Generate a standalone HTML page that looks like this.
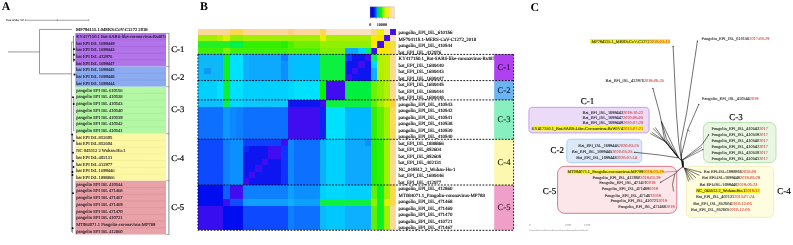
<!DOCTYPE html>
<html><head><meta charset="utf-8"><style>
html,body{margin:0;padding:0;background:#fff;width:793px;height:245px;overflow:hidden}
svg{display:block;font-family:"Liberation Serif", serif;will-change:transform;text-rendering:geometricPrecision}
</style></head><body>
<svg width="793" height="245" viewBox="0 0 793 245">
<g transform="rotate(0.01 396 122)">
<text x="1.7" y="10.5" font-size="11.8" fill="#000" font-weight="bold" text-anchor="start" >A</text>
<text x="200.1" y="10.5" font-size="11.8" fill="#000" font-weight="bold" text-anchor="start" >B</text>
<text x="530.6" y="10.6" font-size="11.8" fill="#000" font-weight="bold" text-anchor="start" >C</text>
<text x="5.6" y="21.3" font-size="2.85" fill="#222" font-weight="normal" text-anchor="start" font-family="Liberation Sans, sans-serif" stroke="#222" stroke-width="0.05">Tree scale: 10</text>
<line x1="25.4" y1="20.3" x2="88.8" y2="20.3" stroke="#333" stroke-width="0.45" />
<line x1="25.4" y1="19.5" x2="25.4" y2="21.1" stroke="#333" stroke-width="0.45" />
<line x1="57.2" y1="19.5" x2="57.2" y2="21.1" stroke="#333" stroke-width="0.45" />
<line x1="88.8" y1="19.5" x2="88.8" y2="21.1" stroke="#333" stroke-width="0.45" />
<rect x="75.3" y="33.05" width="90.7" height="33.59" fill="#b274e8" />
<line x1="75.3" y1="39.768" x2="166" y2="39.768" stroke="#9d5cd8" stroke-width="0.5" />
<line x1="75.3" y1="46.486" x2="166" y2="46.486" stroke="#9d5cd8" stroke-width="0.5" />
<line x1="75.3" y1="53.20399999999999" x2="166" y2="53.20399999999999" stroke="#9d5cd8" stroke-width="0.5" />
<line x1="75.3" y1="59.922" x2="166" y2="59.922" stroke="#9d5cd8" stroke-width="0.5" />
<rect x="75.3" y="66.64" width="90.7" height="20.154" fill="#8cabf0" />
<line x1="75.3" y1="73.358" x2="166" y2="73.358" stroke="#7696e2" stroke-width="0.5" />
<line x1="75.3" y1="80.076" x2="166" y2="80.076" stroke="#7696e2" stroke-width="0.5" />
<rect x="75.3" y="86.794" width="90.7" height="47.025999999999996" fill="#b4f7a4" />
<line x1="75.3" y1="93.512" x2="166" y2="93.512" stroke="#9fe690" stroke-width="0.5" />
<line x1="75.3" y1="100.23" x2="166" y2="100.23" stroke="#9fe690" stroke-width="0.5" />
<line x1="75.3" y1="106.948" x2="166" y2="106.948" stroke="#9fe690" stroke-width="0.5" />
<line x1="75.3" y1="113.666" x2="166" y2="113.666" stroke="#9fe690" stroke-width="0.5" />
<line x1="75.3" y1="120.384" x2="166" y2="120.384" stroke="#9fe690" stroke-width="0.5" />
<line x1="75.3" y1="127.10199999999999" x2="166" y2="127.10199999999999" stroke="#9fe690" stroke-width="0.5" />
<rect x="75.3" y="133.82" width="90.7" height="47.025999999999996" fill="#fcf8a4" />
<line x1="75.3" y1="140.538" x2="166" y2="140.538" stroke="#ece48c" stroke-width="0.5" />
<line x1="75.3" y1="147.256" x2="166" y2="147.256" stroke="#ece48c" stroke-width="0.5" />
<line x1="75.3" y1="153.974" x2="166" y2="153.974" stroke="#ece48c" stroke-width="0.5" />
<line x1="75.3" y1="160.692" x2="166" y2="160.692" stroke="#ece48c" stroke-width="0.5" />
<line x1="75.3" y1="167.41000000000003" x2="166" y2="167.41000000000003" stroke="#ece48c" stroke-width="0.5" />
<line x1="75.3" y1="174.128" x2="166" y2="174.128" stroke="#ece48c" stroke-width="0.5" />
<rect x="75.3" y="180.846" width="90.7" height="53.744" fill="#e8a2a8" />
<line x1="75.3" y1="187.56400000000002" x2="166" y2="187.56400000000002" stroke="#d68890" stroke-width="0.5" />
<line x1="75.3" y1="194.28199999999998" x2="166" y2="194.28199999999998" stroke="#d68890" stroke-width="0.5" />
<line x1="75.3" y1="201.0" x2="166" y2="201.0" stroke="#d68890" stroke-width="0.5" />
<line x1="75.3" y1="207.71800000000002" x2="166" y2="207.71800000000002" stroke="#d68890" stroke-width="0.5" />
<line x1="75.3" y1="214.43599999999998" x2="166" y2="214.43599999999998" stroke="#d68890" stroke-width="0.5" />
<line x1="75.3" y1="221.154" x2="166" y2="221.154" stroke="#d68890" stroke-width="0.5" />
<line x1="75.3" y1="227.872" x2="166" y2="227.872" stroke="#d68890" stroke-width="0.5" />
<g clip-path="url(#clipA)">
<text x="76.2" y="37.949999999999996" font-size="4.55" fill="#100818" font-weight="normal" text-anchor="start" stroke="#100818" stroke-width="0.07">KY417150.1 Bat-SARS-like-coronavirus-Rs4874</text>
<text x="76.2" y="44.668" font-size="4.55" fill="#100818" font-weight="normal" text-anchor="start" stroke="#100818" stroke-width="0.07">bat EPI ISL 1699449</text>
<text x="76.2" y="51.385999999999996" font-size="4.55" fill="#100818" font-weight="normal" text-anchor="start" stroke="#100818" stroke-width="0.07">bat EPI ISL 1699443</text>
<text x="76.2" y="58.10399999999999" font-size="4.55" fill="#100818" font-weight="normal" text-anchor="start" stroke="#100818" stroke-width="0.07">bat EPI ISL 412976</text>
<text x="76.2" y="64.822" font-size="4.55" fill="#100818" font-weight="normal" text-anchor="start" stroke="#100818" stroke-width="0.07">bat EPI ISL 1699447</text>
<text x="76.2" y="71.54" font-size="4.55" fill="#100818" font-weight="normal" text-anchor="start" stroke="#100818" stroke-width="0.07">bat EPI ISL 1699445</text>
<text x="76.2" y="78.25800000000001" font-size="4.55" fill="#100818" font-weight="normal" text-anchor="start" stroke="#100818" stroke-width="0.07">bat EPI ISL 1699448</text>
<text x="76.2" y="84.976" font-size="4.55" fill="#100818" font-weight="normal" text-anchor="start" stroke="#100818" stroke-width="0.07">bat EPI ISL 1699444</text>
<text x="76.2" y="91.694" font-size="4.55" fill="#100818" font-weight="normal" text-anchor="start" stroke="#100818" stroke-width="0.07">pangolin EPI ISL 610156</text>
<text x="76.2" y="98.412" font-size="4.55" fill="#100818" font-weight="normal" text-anchor="start" stroke="#100818" stroke-width="0.07">pangolin EPI ISL 410538</text>
<text x="76.2" y="105.13000000000001" font-size="4.55" fill="#100818" font-weight="normal" text-anchor="start" stroke="#100818" stroke-width="0.07">pangolin EPI ISL 410543</text>
<text x="76.2" y="111.848" font-size="4.55" fill="#100818" font-weight="normal" text-anchor="start" stroke="#100818" stroke-width="0.07">pangolin EPI ISL 410540</text>
<text x="76.2" y="118.566" font-size="4.55" fill="#100818" font-weight="normal" text-anchor="start" stroke="#100818" stroke-width="0.07">pangolin EPI ISL 410539</text>
<text x="76.2" y="125.284" font-size="4.55" fill="#100818" font-weight="normal" text-anchor="start" stroke="#100818" stroke-width="0.07">pangolin EPI ISL 410542</text>
<text x="76.2" y="132.00199999999998" font-size="4.55" fill="#100818" font-weight="normal" text-anchor="start" stroke="#100818" stroke-width="0.07">pangolin EPI ISL 410541</text>
<text x="76.2" y="138.72" font-size="4.55" fill="#100818" font-weight="normal" text-anchor="start" stroke="#100818" stroke-width="0.07">bat EPI ISL 852605</text>
<text x="76.2" y="145.43800000000002" font-size="4.55" fill="#100818" font-weight="normal" text-anchor="start" stroke="#100818" stroke-width="0.07">bat EPI ISL 852604</text>
<text x="76.2" y="152.156" font-size="4.55" fill="#100818" font-weight="normal" text-anchor="start" stroke="#100818" stroke-width="0.07">NC 045512 2 Wuhan-Hu-1</text>
<text x="76.2" y="158.874" font-size="4.55" fill="#100818" font-weight="normal" text-anchor="start" stroke="#100818" stroke-width="0.07">bat EPI ISL 402131</text>
<text x="76.2" y="165.592" font-size="4.55" fill="#100818" font-weight="normal" text-anchor="start" stroke="#100818" stroke-width="0.07">bat EPI ISL 412977</text>
<text x="76.2" y="172.31000000000003" font-size="4.55" fill="#100818" font-weight="normal" text-anchor="start" stroke="#100818" stroke-width="0.07">bat EPI ISL 1699446</text>
<text x="76.2" y="179.028" font-size="4.55" fill="#100818" font-weight="normal" text-anchor="start" stroke="#100818" stroke-width="0.07">bat EPI ISL 1898866</text>
<text x="76.2" y="185.746" font-size="4.55" fill="#100818" font-weight="normal" text-anchor="start" stroke="#100818" stroke-width="0.07">pangolin EPI ISL 410544</text>
<text x="76.2" y="192.46400000000003" font-size="4.55" fill="#100818" font-weight="normal" text-anchor="start" stroke="#100818" stroke-width="0.07">pangolin EPI ISL 471468</text>
<text x="76.2" y="199.182" font-size="4.55" fill="#100818" font-weight="normal" text-anchor="start" stroke="#100818" stroke-width="0.07">pangolin EPI ISL 471467</text>
<text x="76.2" y="205.9" font-size="4.55" fill="#100818" font-weight="normal" text-anchor="start" stroke="#100818" stroke-width="0.07">pangolin EPI ISL 471469</text>
<text x="76.2" y="212.61800000000002" font-size="4.55" fill="#100818" font-weight="normal" text-anchor="start" stroke="#100818" stroke-width="0.07">pangolin EPI ISL 471470</text>
<text x="76.2" y="219.33599999999998" font-size="4.55" fill="#100818" font-weight="normal" text-anchor="start" stroke="#100818" stroke-width="0.07">pangolin EPI ISL 410721</text>
<text x="76.2" y="226.054" font-size="4.55" fill="#100818" font-weight="normal" text-anchor="start" stroke="#100818" stroke-width="0.07">MT084071.1 Pangolin-coronavirus-MP789</text>
<text x="76.2" y="232.77200000000002" font-size="4.55" fill="#100818" font-weight="normal" text-anchor="start" stroke="#100818" stroke-width="0.07">pangolin EPI ISL 412860</text>
</g>
<text x="76.1" y="31.0" font-size="4.58" fill="#000" font-weight="normal" text-anchor="start" stroke="#000" stroke-width="0.12">MF794115.1-MERS-CoV-C1272 2018</text>
<line x1="8" y1="52" x2="39.5" y2="52" stroke="#777" stroke-width="0.75" />
<line x1="39.5" y1="29.5" x2="39.5" y2="73.9" stroke="#777" stroke-width="0.75" />
<line x1="39.5" y1="29.5" x2="72" y2="29.5" stroke="#777" stroke-width="0.75" />
<line x1="39.5" y1="73.9" x2="71.4" y2="73.9" stroke="#777" stroke-width="0.75" />
<line x1="71.4" y1="42.2" x2="71.4" y2="232" stroke="#888" stroke-width="0.8" />
<line x1="71.4" y1="42.2" x2="73.4" y2="42.2" stroke="#444" stroke-width="0.5" />
<line x1="73.5" y1="36" x2="73.5" y2="62" stroke="#222" stroke-width="0.5" />
<line x1="73.7" y1="97" x2="73.7" y2="131" stroke="#222" stroke-width="0.5" />
<line x1="72.6" y1="134" x2="72.6" y2="233" stroke="#222" stroke-width="0.5" />
<circle cx="74" cy="49.2" r="0.95" fill="#000"/>
<circle cx="74" cy="54.8" r="0.95" fill="#000"/>
<circle cx="74" cy="59.8" r="0.95" fill="#000"/>
<circle cx="74.4" cy="74.6" r="0.95" fill="#000"/>
<circle cx="73" cy="97.2" r="0.95" fill="#000"/>
<circle cx="73.7" cy="104.1" r="0.95" fill="#000"/>
<circle cx="72.2" cy="134.6" r="0.95" fill="#000"/>
<circle cx="73.7" cy="140.8" r="0.95" fill="#000"/>
<circle cx="73" cy="152.7" r="0.95" fill="#000"/>
<circle cx="73" cy="161" r="0.95" fill="#000"/>
<circle cx="73.5" cy="167" r="0.95" fill="#000"/>
<circle cx="72.5" cy="172" r="0.95" fill="#000"/>
<circle cx="72.5" cy="175" r="0.95" fill="#000"/>
<circle cx="73" cy="193.2" r="0.95" fill="#000"/>
<circle cx="72.7" cy="228.2" r="0.95" fill="#000"/>
<line x1="168.9" y1="33.4" x2="168.9" y2="234.6" stroke="#999" stroke-width="1.1" />
<line x1="166" y1="33.4" x2="169.4" y2="33.4" stroke="#777" stroke-width="0.6" />
<line x1="166" y1="66.6" x2="169.4" y2="66.6" stroke="#777" stroke-width="0.6" />
<line x1="166" y1="86.8" x2="169.4" y2="86.8" stroke="#777" stroke-width="0.6" />
<line x1="166" y1="133.8" x2="169.4" y2="133.8" stroke="#777" stroke-width="0.6" />
<line x1="166" y1="180.8" x2="169.4" y2="180.8" stroke="#777" stroke-width="0.6" />
<line x1="166" y1="234.6" x2="169.4" y2="234.6" stroke="#777" stroke-width="0.6" />
<text x="171.2" y="52.3" font-size="8.7" fill="#000" font-weight="normal" text-anchor="start" stroke="#000" stroke-width="0.2">C-1</text>
<text x="171.2" y="80.2" font-size="8.7" fill="#000" font-weight="normal" text-anchor="start" stroke="#000" stroke-width="0.2">C-2</text>
<text x="171.2" y="112.2" font-size="8.7" fill="#000" font-weight="normal" text-anchor="start" stroke="#000" stroke-width="0.2">C-3</text>
<text x="171.2" y="161.3" font-size="8.7" fill="#000" font-weight="normal" text-anchor="start" stroke="#000" stroke-width="0.2">C-4</text>
<text x="171.2" y="209.7" font-size="8.7" fill="#000" font-weight="normal" text-anchor="start" stroke="#000" stroke-width="0.2">C-5</text>
<g clip-path="url(#clipH)"><g shape-rendering="crispEdges" filter="url(#hb)">
<rect x="198" y="29" width="6" height="6" fill="#fcd898" />
<rect x="204" y="29" width="7" height="6" fill="#fcd898" />
<rect x="211" y="29" width="6" height="6" fill="#fcd898" />
<rect x="217" y="29" width="6" height="6" fill="#fcd898" />
<rect x="223" y="29" width="7" height="6" fill="#fcd898" />
<rect x="230" y="29" width="6" height="6" fill="#fcd850" />
<rect x="236" y="29" width="7" height="6" fill="#fcd850" />
<rect x="243" y="29" width="6" height="6" fill="#fcd898" />
<rect x="249" y="29" width="6" height="6" fill="#fcd898" />
<rect x="255" y="29" width="7" height="6" fill="#fcd898" />
<rect x="262" y="29" width="6" height="6" fill="#fcd898" />
<rect x="268" y="29" width="7" height="6" fill="#fcd898" />
<rect x="275" y="29" width="6" height="6" fill="#fcd898" />
<rect x="281" y="29" width="7" height="6" fill="#fcd898" />
<rect x="288" y="29" width="6" height="6" fill="#fcd080" />
<rect x="294" y="29" width="6" height="6" fill="#fcd898" />
<rect x="300" y="29" width="7" height="6" fill="#fcd898" />
<rect x="307" y="29" width="6" height="6" fill="#fcd898" />
<rect x="313" y="29" width="7" height="6" fill="#fcd898" />
<rect x="320" y="29" width="6" height="6" fill="#fcd850" />
<rect x="326" y="29" width="7" height="6" fill="#fce0c0" />
<rect x="333" y="29" width="6" height="6" fill="#fce0c0" />
<rect x="339" y="29" width="6" height="6" fill="#fce0c0" />
<rect x="345" y="29" width="7" height="6" fill="#fce0c0" />
<rect x="352" y="29" width="6" height="6" fill="#fce0c0" />
<rect x="358" y="29" width="7" height="6" fill="#fce0c0" />
<rect x="365" y="29" width="6" height="6" fill="#fce0c0" />
<rect x="371" y="29" width="6" height="6" fill="#fcd880" />
<rect x="377" y="29" width="7" height="6" fill="#e8f400" />
<rect x="384" y="29" width="6" height="6" fill="#fce0c0" />
<rect x="390" y="29" width="7" height="6" fill="#4010f0" />
<rect x="198" y="35" width="6" height="6" fill="#a0f000" />
<rect x="204" y="35" width="7" height="6" fill="#a0f000" />
<rect x="211" y="35" width="6" height="6" fill="#a0f000" />
<rect x="217" y="35" width="6" height="6" fill="#b8f000" />
<rect x="223" y="35" width="7" height="6" fill="#e0f000" />
<rect x="230" y="35" width="6" height="6" fill="#90f000" />
<rect x="236" y="35" width="7" height="6" fill="#90f000" />
<rect x="243" y="35" width="6" height="6" fill="#a0f000" />
<rect x="249" y="35" width="6" height="6" fill="#a0f000" />
<rect x="255" y="35" width="7" height="6" fill="#a0f000" />
<rect x="262" y="35" width="6" height="6" fill="#a0f000" />
<rect x="268" y="35" width="7" height="6" fill="#a0f000" />
<rect x="275" y="35" width="6" height="6" fill="#a0f000" />
<rect x="281" y="35" width="7" height="6" fill="#a0f000" />
<rect x="288" y="35" width="6" height="6" fill="#a0f000" />
<rect x="294" y="35" width="6" height="6" fill="#a0f000" />
<rect x="300" y="35" width="7" height="6" fill="#a0f000" />
<rect x="307" y="35" width="6" height="6" fill="#a0f000" />
<rect x="313" y="35" width="7" height="6" fill="#a0f000" />
<rect x="320" y="35" width="6" height="6" fill="#e8f000" />
<rect x="326" y="35" width="7" height="6" fill="#a8f000" />
<rect x="333" y="35" width="6" height="6" fill="#a8f000" />
<rect x="339" y="35" width="6" height="6" fill="#a8f000" />
<rect x="345" y="35" width="7" height="6" fill="#a8f000" />
<rect x="352" y="35" width="6" height="6" fill="#a8f000" />
<rect x="358" y="35" width="7" height="6" fill="#a8f000" />
<rect x="365" y="35" width="6" height="6" fill="#a8f000" />
<rect x="371" y="35" width="6" height="6" fill="#f8e800" />
<rect x="377" y="35" width="7" height="6" fill="#fce000" />
<rect x="384" y="35" width="6" height="6" fill="#4010f0" />
<rect x="390" y="35" width="7" height="6" fill="#fce0c0" />
<rect x="198" y="41" width="6" height="7" fill="#20f020" />
<rect x="204" y="41" width="7" height="7" fill="#20f020" />
<rect x="211" y="41" width="6" height="7" fill="#20f020" />
<rect x="217" y="41" width="6" height="7" fill="#20f020" />
<rect x="223" y="41" width="7" height="7" fill="#20f020" />
<rect x="230" y="41" width="6" height="7" fill="#00f050" />
<rect x="236" y="41" width="7" height="7" fill="#00f050" />
<rect x="243" y="41" width="6" height="7" fill="#30f000" />
<rect x="249" y="41" width="6" height="7" fill="#30f000" />
<rect x="255" y="41" width="7" height="7" fill="#30f000" />
<rect x="262" y="41" width="6" height="7" fill="#30f000" />
<rect x="268" y="41" width="7" height="7" fill="#30f000" />
<rect x="275" y="41" width="6" height="7" fill="#30f000" />
<rect x="281" y="41" width="7" height="7" fill="#20f000" />
<rect x="288" y="41" width="6" height="7" fill="#50f000" />
<rect x="294" y="41" width="6" height="7" fill="#70f000" />
<rect x="300" y="41" width="7" height="7" fill="#70f000" />
<rect x="307" y="41" width="6" height="7" fill="#70f000" />
<rect x="313" y="41" width="7" height="7" fill="#70f000" />
<rect x="320" y="41" width="6" height="7" fill="#90f000" />
<rect x="326" y="41" width="7" height="7" fill="#90f000" />
<rect x="333" y="41" width="6" height="7" fill="#90f000" />
<rect x="339" y="41" width="6" height="7" fill="#90f000" />
<rect x="345" y="41" width="7" height="7" fill="#90f000" />
<rect x="352" y="41" width="6" height="7" fill="#90f000" />
<rect x="358" y="41" width="7" height="7" fill="#90f000" />
<rect x="365" y="41" width="6" height="7" fill="#90f000" />
<rect x="371" y="41" width="6" height="7" fill="#fce800" />
<rect x="377" y="41" width="7" height="7" fill="#4010f0" />
<rect x="384" y="41" width="6" height="7" fill="#fce000" />
<rect x="390" y="41" width="7" height="7" fill="#f0e040" />
<rect x="198" y="48" width="6" height="6" fill="#40f000" />
<rect x="204" y="48" width="7" height="6" fill="#40f000" />
<rect x="211" y="48" width="6" height="6" fill="#40f000" />
<rect x="217" y="48" width="6" height="6" fill="#40f000" />
<rect x="223" y="48" width="7" height="6" fill="#80f000" />
<rect x="230" y="48" width="6" height="6" fill="#40f000" />
<rect x="236" y="48" width="7" height="6" fill="#40f000" />
<rect x="243" y="48" width="6" height="6" fill="#40f000" />
<rect x="249" y="48" width="6" height="6" fill="#40f000" />
<rect x="255" y="48" width="7" height="6" fill="#40f000" />
<rect x="262" y="48" width="6" height="6" fill="#40f000" />
<rect x="268" y="48" width="7" height="6" fill="#40f000" />
<rect x="275" y="48" width="6" height="6" fill="#40f000" />
<rect x="281" y="48" width="7" height="6" fill="#40f000" />
<rect x="288" y="48" width="6" height="6" fill="#50f000" />
<rect x="294" y="48" width="6" height="6" fill="#50f000" />
<rect x="300" y="48" width="7" height="6" fill="#50f000" />
<rect x="307" y="48" width="6" height="6" fill="#50f000" />
<rect x="313" y="48" width="7" height="6" fill="#50f000" />
<rect x="320" y="48" width="6" height="6" fill="#80f000" />
<rect x="326" y="48" width="7" height="6" fill="#80f000" />
<rect x="333" y="48" width="6" height="6" fill="#80f000" />
<rect x="339" y="48" width="6" height="6" fill="#80f000" />
<rect x="345" y="48" width="7" height="6" fill="#10a8ff" />
<rect x="352" y="48" width="6" height="6" fill="#10a8ff" />
<rect x="358" y="48" width="7" height="6" fill="#00d0ff" />
<rect x="365" y="48" width="6" height="6" fill="#00f060" />
<rect x="371" y="48" width="6" height="6" fill="#4010f0" />
<rect x="377" y="48" width="7" height="6" fill="#fce800" />
<rect x="384" y="48" width="6" height="6" fill="#fce800" />
<rect x="390" y="48" width="7" height="6" fill="#fcd860" />
<rect x="198" y="54" width="6" height="7" fill="#10b8f8" />
<rect x="204" y="54" width="7" height="7" fill="#10b8f8" />
<rect x="211" y="54" width="6" height="7" fill="#10b8f8" />
<rect x="217" y="54" width="6" height="7" fill="#10b8f8" />
<rect x="223" y="54" width="7" height="7" fill="#10f020" />
<rect x="230" y="54" width="6" height="7" fill="#00e0ff" />
<rect x="236" y="54" width="7" height="7" fill="#00e0ff" />
<rect x="243" y="54" width="6" height="7" fill="#10b0ff" />
<rect x="249" y="54" width="6" height="7" fill="#08a8ff" />
<rect x="255" y="54" width="7" height="7" fill="#08a8ff" />
<rect x="262" y="54" width="6" height="7" fill="#08a8ff" />
<rect x="268" y="54" width="7" height="7" fill="#08a8ff" />
<rect x="275" y="54" width="6" height="7" fill="#08a8ff" />
<rect x="281" y="54" width="7" height="7" fill="#0880ff" />
<rect x="288" y="54" width="6" height="7" fill="#10b8ff" />
<rect x="294" y="54" width="6" height="7" fill="#00c0ff" />
<rect x="300" y="54" width="7" height="7" fill="#00c0ff" />
<rect x="307" y="54" width="6" height="7" fill="#00c0ff" />
<rect x="313" y="54" width="7" height="7" fill="#00c0ff" />
<rect x="320" y="54" width="6" height="7" fill="#10f040" />
<rect x="326" y="54" width="7" height="7" fill="#10f040" />
<rect x="333" y="54" width="6" height="7" fill="#10f040" />
<rect x="339" y="54" width="6" height="7" fill="#10f040" />
<rect x="345" y="54" width="7" height="7" fill="#0838ff" />
<rect x="352" y="54" width="6" height="7" fill="#0818f0" />
<rect x="358" y="54" width="7" height="7" fill="#0818f0" />
<rect x="365" y="54" width="6" height="7" fill="#4010f0" />
<rect x="371" y="54" width="6" height="7" fill="#10f060" />
<rect x="377" y="54" width="7" height="7" fill="#b0f000" />
<rect x="384" y="54" width="6" height="7" fill="#c0f000" />
<rect x="390" y="54" width="7" height="7" fill="#fcd890" />
<rect x="198" y="61" width="6" height="7" fill="#10b8f8" />
<rect x="204" y="61" width="7" height="7" fill="#10b8f8" />
<rect x="211" y="61" width="6" height="7" fill="#10b8f8" />
<rect x="217" y="61" width="6" height="7" fill="#10b8f8" />
<rect x="223" y="61" width="7" height="7" fill="#10f020" />
<rect x="230" y="61" width="6" height="7" fill="#00e0ff" />
<rect x="236" y="61" width="7" height="7" fill="#00e0ff" />
<rect x="243" y="61" width="6" height="7" fill="#10b0ff" />
<rect x="249" y="61" width="6" height="7" fill="#08a8ff" />
<rect x="255" y="61" width="7" height="7" fill="#08a8ff" />
<rect x="262" y="61" width="6" height="7" fill="#08a8ff" />
<rect x="268" y="61" width="7" height="7" fill="#08a8ff" />
<rect x="275" y="61" width="6" height="7" fill="#08a8ff" />
<rect x="281" y="61" width="7" height="7" fill="#1090ff" />
<rect x="288" y="61" width="6" height="7" fill="#10b8ff" />
<rect x="294" y="61" width="6" height="7" fill="#00c0ff" />
<rect x="300" y="61" width="7" height="7" fill="#00c0ff" />
<rect x="307" y="61" width="6" height="7" fill="#00c0ff" />
<rect x="313" y="61" width="7" height="7" fill="#00c0ff" />
<rect x="320" y="61" width="6" height="7" fill="#10f040" />
<rect x="326" y="61" width="7" height="7" fill="#10f040" />
<rect x="333" y="61" width="6" height="7" fill="#10f040" />
<rect x="339" y="61" width="6" height="7" fill="#10f040" />
<rect x="345" y="61" width="7" height="7" fill="#0818f0" />
<rect x="352" y="61" width="6" height="7" fill="#0818f0" />
<rect x="358" y="61" width="7" height="7" fill="#4010f0" />
<rect x="365" y="61" width="6" height="7" fill="#0818f0" />
<rect x="371" y="61" width="6" height="7" fill="#00d8ff" />
<rect x="377" y="61" width="7" height="7" fill="#b0f000" />
<rect x="384" y="61" width="6" height="7" fill="#c0f000" />
<rect x="390" y="61" width="7" height="7" fill="#fcd890" />
<rect x="198" y="68" width="6" height="6" fill="#10b8f8" />
<rect x="204" y="68" width="7" height="6" fill="#0898f8" />
<rect x="211" y="68" width="6" height="6" fill="#10b8f8" />
<rect x="217" y="68" width="6" height="6" fill="#10b8f8" />
<rect x="223" y="68" width="7" height="6" fill="#10f020" />
<rect x="230" y="68" width="6" height="6" fill="#00e0ff" />
<rect x="236" y="68" width="7" height="6" fill="#00e0ff" />
<rect x="243" y="68" width="6" height="6" fill="#10b0ff" />
<rect x="249" y="68" width="6" height="6" fill="#08a8ff" />
<rect x="255" y="68" width="7" height="6" fill="#08a8ff" />
<rect x="262" y="68" width="6" height="6" fill="#08a8ff" />
<rect x="268" y="68" width="7" height="6" fill="#08a8ff" />
<rect x="275" y="68" width="6" height="6" fill="#08a8ff" />
<rect x="281" y="68" width="7" height="6" fill="#1090ff" />
<rect x="288" y="68" width="6" height="6" fill="#10b8ff" />
<rect x="294" y="68" width="6" height="6" fill="#00c0ff" />
<rect x="300" y="68" width="7" height="6" fill="#00c0ff" />
<rect x="307" y="68" width="6" height="6" fill="#00c0ff" />
<rect x="313" y="68" width="7" height="6" fill="#00c0ff" />
<rect x="320" y="68" width="6" height="6" fill="#10f040" />
<rect x="326" y="68" width="7" height="6" fill="#10f040" />
<rect x="333" y="68" width="6" height="6" fill="#10f040" />
<rect x="339" y="68" width="6" height="6" fill="#10f040" />
<rect x="345" y="68" width="7" height="6" fill="#0818f0" />
<rect x="352" y="68" width="6" height="6" fill="#4010f0" />
<rect x="358" y="68" width="7" height="6" fill="#0818f0" />
<rect x="365" y="68" width="6" height="6" fill="#0818f0" />
<rect x="371" y="68" width="6" height="6" fill="#10b0ff" />
<rect x="377" y="68" width="7" height="6" fill="#b0f000" />
<rect x="384" y="68" width="6" height="6" fill="#c0f000" />
<rect x="390" y="68" width="7" height="6" fill="#fcd890" />
<rect x="198" y="74" width="6" height="7" fill="#10b8f8" />
<rect x="204" y="74" width="7" height="7" fill="#10b8f8" />
<rect x="211" y="74" width="6" height="7" fill="#10b8f8" />
<rect x="217" y="74" width="6" height="7" fill="#10b8f8" />
<rect x="223" y="74" width="7" height="7" fill="#10f020" />
<rect x="230" y="74" width="6" height="7" fill="#00e0ff" />
<rect x="236" y="74" width="7" height="7" fill="#00e0ff" />
<rect x="243" y="74" width="6" height="7" fill="#10b0ff" />
<rect x="249" y="74" width="6" height="7" fill="#08a8ff" />
<rect x="255" y="74" width="7" height="7" fill="#08a8ff" />
<rect x="262" y="74" width="6" height="7" fill="#08a8ff" />
<rect x="268" y="74" width="7" height="7" fill="#08a8ff" />
<rect x="275" y="74" width="6" height="7" fill="#08a8ff" />
<rect x="281" y="74" width="7" height="7" fill="#1090ff" />
<rect x="288" y="74" width="6" height="7" fill="#10b8ff" />
<rect x="294" y="74" width="6" height="7" fill="#00c0ff" />
<rect x="300" y="74" width="7" height="7" fill="#00c0ff" />
<rect x="307" y="74" width="6" height="7" fill="#00c0ff" />
<rect x="313" y="74" width="7" height="7" fill="#00c0ff" />
<rect x="320" y="74" width="6" height="7" fill="#10f040" />
<rect x="326" y="74" width="7" height="7" fill="#10f040" />
<rect x="333" y="74" width="6" height="7" fill="#10f040" />
<rect x="339" y="74" width="6" height="7" fill="#10f040" />
<rect x="345" y="74" width="7" height="7" fill="#4010f0" />
<rect x="352" y="74" width="6" height="7" fill="#0818f0" />
<rect x="358" y="74" width="7" height="7" fill="#0818f0" />
<rect x="365" y="74" width="6" height="7" fill="#0818f0" />
<rect x="371" y="74" width="6" height="7" fill="#10b0ff" />
<rect x="377" y="74" width="7" height="7" fill="#b0f000" />
<rect x="384" y="74" width="6" height="7" fill="#c0f000" />
<rect x="390" y="74" width="7" height="7" fill="#fcd890" />
<rect x="198" y="81" width="6" height="6" fill="#00d0ff" />
<rect x="204" y="81" width="7" height="6" fill="#00d0ff" />
<rect x="211" y="81" width="6" height="6" fill="#00d0ff" />
<rect x="217" y="81" width="6" height="6" fill="#00e0ff" />
<rect x="223" y="81" width="7" height="6" fill="#10f030" />
<rect x="230" y="81" width="6" height="6" fill="#00e0ff" />
<rect x="236" y="81" width="7" height="6" fill="#00e0ff" />
<rect x="243" y="81" width="6" height="6" fill="#00d0ff" />
<rect x="249" y="81" width="6" height="6" fill="#00d0ff" />
<rect x="255" y="81" width="7" height="6" fill="#00d0ff" />
<rect x="262" y="81" width="6" height="6" fill="#00d0ff" />
<rect x="268" y="81" width="7" height="6" fill="#00d0ff" />
<rect x="275" y="81" width="6" height="6" fill="#00d0ff" />
<rect x="281" y="81" width="7" height="6" fill="#00d0ff" />
<rect x="288" y="81" width="6" height="6" fill="#00d8ff" />
<rect x="294" y="81" width="6" height="6" fill="#00e0ff" />
<rect x="300" y="81" width="7" height="6" fill="#00e0ff" />
<rect x="307" y="81" width="6" height="6" fill="#00e0ff" />
<rect x="313" y="81" width="7" height="6" fill="#00e0ff" />
<rect x="320" y="81" width="6" height="6" fill="#10f000" />
<rect x="326" y="81" width="7" height="6" fill="#4010f0" />
<rect x="333" y="81" width="6" height="6" fill="#4010f0" />
<rect x="339" y="81" width="6" height="6" fill="#4010f0" />
<rect x="345" y="81" width="7" height="6" fill="#00f040" />
<rect x="352" y="81" width="6" height="6" fill="#00f040" />
<rect x="358" y="81" width="7" height="6" fill="#00f040" />
<rect x="365" y="81" width="6" height="6" fill="#00f040" />
<rect x="371" y="81" width="6" height="6" fill="#70f000" />
<rect x="377" y="81" width="7" height="6" fill="#90f000" />
<rect x="384" y="81" width="6" height="6" fill="#b0f000" />
<rect x="390" y="81" width="7" height="6" fill="#fcd890" />
<rect x="198" y="87" width="6" height="7" fill="#00d0ff" />
<rect x="204" y="87" width="7" height="7" fill="#00d0ff" />
<rect x="211" y="87" width="6" height="7" fill="#00d0ff" />
<rect x="217" y="87" width="6" height="7" fill="#00e0ff" />
<rect x="223" y="87" width="7" height="7" fill="#10f030" />
<rect x="230" y="87" width="6" height="7" fill="#00e0ff" />
<rect x="236" y="87" width="7" height="7" fill="#00e0ff" />
<rect x="243" y="87" width="6" height="7" fill="#00d0ff" />
<rect x="249" y="87" width="6" height="7" fill="#00d0ff" />
<rect x="255" y="87" width="7" height="7" fill="#00d0ff" />
<rect x="262" y="87" width="6" height="7" fill="#00d0ff" />
<rect x="268" y="87" width="7" height="7" fill="#00d0ff" />
<rect x="275" y="87" width="6" height="7" fill="#00d0ff" />
<rect x="281" y="87" width="7" height="7" fill="#00d0ff" />
<rect x="288" y="87" width="6" height="7" fill="#00d8ff" />
<rect x="294" y="87" width="6" height="7" fill="#00e0ff" />
<rect x="300" y="87" width="7" height="7" fill="#00e0ff" />
<rect x="307" y="87" width="6" height="7" fill="#00e0ff" />
<rect x="313" y="87" width="7" height="7" fill="#00e0ff" />
<rect x="320" y="87" width="6" height="7" fill="#10f000" />
<rect x="326" y="87" width="7" height="7" fill="#4010f0" />
<rect x="333" y="87" width="6" height="7" fill="#4010f0" />
<rect x="339" y="87" width="6" height="7" fill="#4010f0" />
<rect x="345" y="87" width="7" height="7" fill="#00f040" />
<rect x="352" y="87" width="6" height="7" fill="#00f040" />
<rect x="358" y="87" width="7" height="7" fill="#00f040" />
<rect x="365" y="87" width="6" height="7" fill="#00f040" />
<rect x="371" y="87" width="6" height="7" fill="#70f000" />
<rect x="377" y="87" width="7" height="7" fill="#90f000" />
<rect x="384" y="87" width="6" height="7" fill="#b0f000" />
<rect x="390" y="87" width="7" height="7" fill="#fcd890" />
<rect x="198" y="94" width="6" height="6" fill="#00d0ff" />
<rect x="204" y="94" width="7" height="6" fill="#00d0ff" />
<rect x="211" y="94" width="6" height="6" fill="#00d0ff" />
<rect x="217" y="94" width="6" height="6" fill="#00e0ff" />
<rect x="223" y="94" width="7" height="6" fill="#10f030" />
<rect x="230" y="94" width="6" height="6" fill="#00e0ff" />
<rect x="236" y="94" width="7" height="6" fill="#00e0ff" />
<rect x="243" y="94" width="6" height="6" fill="#00d0ff" />
<rect x="249" y="94" width="6" height="6" fill="#00d0ff" />
<rect x="255" y="94" width="7" height="6" fill="#00d0ff" />
<rect x="262" y="94" width="6" height="6" fill="#00d0ff" />
<rect x="268" y="94" width="7" height="6" fill="#00d0ff" />
<rect x="275" y="94" width="6" height="6" fill="#00d0ff" />
<rect x="281" y="94" width="7" height="6" fill="#00d0ff" />
<rect x="288" y="94" width="6" height="6" fill="#00d8ff" />
<rect x="294" y="94" width="6" height="6" fill="#00e0ff" />
<rect x="300" y="94" width="7" height="6" fill="#00e0ff" />
<rect x="307" y="94" width="6" height="6" fill="#00e0ff" />
<rect x="313" y="94" width="7" height="6" fill="#00e0ff" />
<rect x="320" y="94" width="6" height="6" fill="#10f000" />
<rect x="326" y="94" width="7" height="6" fill="#4010f0" />
<rect x="333" y="94" width="6" height="6" fill="#4010f0" />
<rect x="339" y="94" width="6" height="6" fill="#4010f0" />
<rect x="345" y="94" width="7" height="6" fill="#00f040" />
<rect x="352" y="94" width="6" height="6" fill="#00f040" />
<rect x="358" y="94" width="7" height="6" fill="#00f040" />
<rect x="365" y="94" width="6" height="6" fill="#00f040" />
<rect x="371" y="94" width="6" height="6" fill="#70f000" />
<rect x="377" y="94" width="7" height="6" fill="#90f000" />
<rect x="384" y="94" width="6" height="6" fill="#b0f000" />
<rect x="390" y="94" width="7" height="6" fill="#fcd890" />
<rect x="198" y="100" width="6" height="7" fill="#10c0ff" />
<rect x="204" y="100" width="7" height="7" fill="#10c0ff" />
<rect x="211" y="100" width="6" height="7" fill="#10c0ff" />
<rect x="217" y="100" width="6" height="7" fill="#10c0ff" />
<rect x="223" y="100" width="7" height="7" fill="#10f040" />
<rect x="230" y="100" width="6" height="7" fill="#00d8ff" />
<rect x="236" y="100" width="7" height="7" fill="#00d8ff" />
<rect x="243" y="100" width="6" height="7" fill="#10c8ff" />
<rect x="249" y="100" width="6" height="7" fill="#10c8ff" />
<rect x="255" y="100" width="7" height="7" fill="#10c8ff" />
<rect x="262" y="100" width="6" height="7" fill="#10c8ff" />
<rect x="268" y="100" width="7" height="7" fill="#10c8ff" />
<rect x="275" y="100" width="6" height="7" fill="#10c8ff" />
<rect x="281" y="100" width="7" height="7" fill="#10c8ff" />
<rect x="288" y="100" width="6" height="7" fill="#0818f0" />
<rect x="294" y="100" width="6" height="7" fill="#0818f0" />
<rect x="300" y="100" width="7" height="7" fill="#0818f0" />
<rect x="307" y="100" width="6" height="7" fill="#0818f0" />
<rect x="313" y="100" width="7" height="7" fill="#0818f0" />
<rect x="320" y="100" width="6" height="7" fill="#4010f0" />
<rect x="326" y="100" width="7" height="7" fill="#10f040" />
<rect x="333" y="100" width="6" height="7" fill="#10f040" />
<rect x="339" y="100" width="6" height="7" fill="#10f040" />
<rect x="345" y="100" width="7" height="7" fill="#10f040" />
<rect x="352" y="100" width="6" height="7" fill="#10f040" />
<rect x="358" y="100" width="7" height="7" fill="#10f040" />
<rect x="365" y="100" width="6" height="7" fill="#10f040" />
<rect x="371" y="100" width="6" height="7" fill="#60f000" />
<rect x="377" y="100" width="7" height="7" fill="#a0f000" />
<rect x="384" y="100" width="6" height="7" fill="#d0f000" />
<rect x="390" y="100" width="7" height="7" fill="#fcd040" />
<rect x="198" y="107" width="6" height="6" fill="#1070ff" />
<rect x="204" y="107" width="7" height="6" fill="#1070ff" />
<rect x="211" y="107" width="6" height="6" fill="#1070ff" />
<rect x="217" y="107" width="6" height="6" fill="#1070ff" />
<rect x="223" y="107" width="7" height="6" fill="#1098ff" />
<rect x="230" y="107" width="6" height="6" fill="#1088ff" />
<rect x="236" y="107" width="7" height="6" fill="#1080ff" />
<rect x="243" y="107" width="6" height="6" fill="#1070ff" />
<rect x="249" y="107" width="6" height="6" fill="#1070ff" />
<rect x="255" y="107" width="7" height="6" fill="#1070ff" />
<rect x="262" y="107" width="6" height="6" fill="#1070ff" />
<rect x="268" y="107" width="7" height="6" fill="#1070ff" />
<rect x="275" y="107" width="6" height="6" fill="#1070ff" />
<rect x="281" y="107" width="7" height="6" fill="#1070ff" />
<rect x="288" y="107" width="6" height="6" fill="#4010f0" />
<rect x="294" y="107" width="6" height="6" fill="#4010f0" />
<rect x="300" y="107" width="7" height="6" fill="#4010f0" />
<rect x="307" y="107" width="6" height="6" fill="#4010f0" />
<rect x="313" y="107" width="7" height="6" fill="#4010f0" />
<rect x="320" y="107" width="6" height="6" fill="#0820f0" />
<rect x="326" y="107" width="7" height="6" fill="#00e0ff" />
<rect x="333" y="107" width="6" height="6" fill="#00e0ff" />
<rect x="339" y="107" width="6" height="6" fill="#00e0ff" />
<rect x="345" y="107" width="7" height="6" fill="#00b8ff" />
<rect x="352" y="107" width="6" height="6" fill="#00b8ff" />
<rect x="358" y="107" width="7" height="6" fill="#00b8ff" />
<rect x="365" y="107" width="6" height="6" fill="#00b8ff" />
<rect x="371" y="107" width="6" height="6" fill="#30f000" />
<rect x="377" y="107" width="7" height="6" fill="#60f000" />
<rect x="384" y="107" width="6" height="6" fill="#a0f000" />
<rect x="390" y="107" width="7" height="6" fill="#fcd860" />
<rect x="198" y="113" width="6" height="7" fill="#1070ff" />
<rect x="204" y="113" width="7" height="7" fill="#1070ff" />
<rect x="211" y="113" width="6" height="7" fill="#1070ff" />
<rect x="217" y="113" width="6" height="7" fill="#1070ff" />
<rect x="223" y="113" width="7" height="7" fill="#1098ff" />
<rect x="230" y="113" width="6" height="7" fill="#1088ff" />
<rect x="236" y="113" width="7" height="7" fill="#1080ff" />
<rect x="243" y="113" width="6" height="7" fill="#1070ff" />
<rect x="249" y="113" width="6" height="7" fill="#1070ff" />
<rect x="255" y="113" width="7" height="7" fill="#1070ff" />
<rect x="262" y="113" width="6" height="7" fill="#1070ff" />
<rect x="268" y="113" width="7" height="7" fill="#1070ff" />
<rect x="275" y="113" width="6" height="7" fill="#1070ff" />
<rect x="281" y="113" width="7" height="7" fill="#1070ff" />
<rect x="288" y="113" width="6" height="7" fill="#4010f0" />
<rect x="294" y="113" width="6" height="7" fill="#4010f0" />
<rect x="300" y="113" width="7" height="7" fill="#4010f0" />
<rect x="307" y="113" width="6" height="7" fill="#4010f0" />
<rect x="313" y="113" width="7" height="7" fill="#4010f0" />
<rect x="320" y="113" width="6" height="7" fill="#0820f0" />
<rect x="326" y="113" width="7" height="7" fill="#00e0ff" />
<rect x="333" y="113" width="6" height="7" fill="#00e0ff" />
<rect x="339" y="113" width="6" height="7" fill="#00e0ff" />
<rect x="345" y="113" width="7" height="7" fill="#00b8ff" />
<rect x="352" y="113" width="6" height="7" fill="#00b8ff" />
<rect x="358" y="113" width="7" height="7" fill="#00b8ff" />
<rect x="365" y="113" width="6" height="7" fill="#00b8ff" />
<rect x="371" y="113" width="6" height="7" fill="#30f000" />
<rect x="377" y="113" width="7" height="7" fill="#60f000" />
<rect x="384" y="113" width="6" height="7" fill="#a0f000" />
<rect x="390" y="113" width="7" height="7" fill="#fcd860" />
<rect x="198" y="120" width="6" height="6" fill="#1070ff" />
<rect x="204" y="120" width="7" height="6" fill="#1070ff" />
<rect x="211" y="120" width="6" height="6" fill="#1070ff" />
<rect x="217" y="120" width="6" height="6" fill="#1070ff" />
<rect x="223" y="120" width="7" height="6" fill="#1098ff" />
<rect x="230" y="120" width="6" height="6" fill="#1088ff" />
<rect x="236" y="120" width="7" height="6" fill="#1080ff" />
<rect x="243" y="120" width="6" height="6" fill="#1070ff" />
<rect x="249" y="120" width="6" height="6" fill="#1070ff" />
<rect x="255" y="120" width="7" height="6" fill="#1070ff" />
<rect x="262" y="120" width="6" height="6" fill="#1070ff" />
<rect x="268" y="120" width="7" height="6" fill="#1070ff" />
<rect x="275" y="120" width="6" height="6" fill="#1070ff" />
<rect x="281" y="120" width="7" height="6" fill="#1070ff" />
<rect x="288" y="120" width="6" height="6" fill="#4010f0" />
<rect x="294" y="120" width="6" height="6" fill="#4010f0" />
<rect x="300" y="120" width="7" height="6" fill="#4010f0" />
<rect x="307" y="120" width="6" height="6" fill="#4010f0" />
<rect x="313" y="120" width="7" height="6" fill="#4010f0" />
<rect x="320" y="120" width="6" height="6" fill="#0820f0" />
<rect x="326" y="120" width="7" height="6" fill="#00e0ff" />
<rect x="333" y="120" width="6" height="6" fill="#00e0ff" />
<rect x="339" y="120" width="6" height="6" fill="#00e0ff" />
<rect x="345" y="120" width="7" height="6" fill="#00b8ff" />
<rect x="352" y="120" width="6" height="6" fill="#00b8ff" />
<rect x="358" y="120" width="7" height="6" fill="#00b8ff" />
<rect x="365" y="120" width="6" height="6" fill="#00b8ff" />
<rect x="371" y="120" width="6" height="6" fill="#30f000" />
<rect x="377" y="120" width="7" height="6" fill="#60f000" />
<rect x="384" y="120" width="6" height="6" fill="#a0f000" />
<rect x="390" y="120" width="7" height="6" fill="#fcd860" />
<rect x="198" y="126" width="6" height="7" fill="#1070ff" />
<rect x="204" y="126" width="7" height="7" fill="#1070ff" />
<rect x="211" y="126" width="6" height="7" fill="#1070ff" />
<rect x="217" y="126" width="6" height="7" fill="#1070ff" />
<rect x="223" y="126" width="7" height="7" fill="#1098ff" />
<rect x="230" y="126" width="6" height="7" fill="#1088ff" />
<rect x="236" y="126" width="7" height="7" fill="#1080ff" />
<rect x="243" y="126" width="6" height="7" fill="#1070ff" />
<rect x="249" y="126" width="6" height="7" fill="#1070ff" />
<rect x="255" y="126" width="7" height="7" fill="#1070ff" />
<rect x="262" y="126" width="6" height="7" fill="#1070ff" />
<rect x="268" y="126" width="7" height="7" fill="#1070ff" />
<rect x="275" y="126" width="6" height="7" fill="#1070ff" />
<rect x="281" y="126" width="7" height="7" fill="#1070ff" />
<rect x="288" y="126" width="6" height="7" fill="#4010f0" />
<rect x="294" y="126" width="6" height="7" fill="#4010f0" />
<rect x="300" y="126" width="7" height="7" fill="#4010f0" />
<rect x="307" y="126" width="6" height="7" fill="#4010f0" />
<rect x="313" y="126" width="7" height="7" fill="#4010f0" />
<rect x="320" y="126" width="6" height="7" fill="#0820f0" />
<rect x="326" y="126" width="7" height="7" fill="#00e0ff" />
<rect x="333" y="126" width="6" height="7" fill="#00e0ff" />
<rect x="339" y="126" width="6" height="7" fill="#00e0ff" />
<rect x="345" y="126" width="7" height="7" fill="#00b8ff" />
<rect x="352" y="126" width="6" height="7" fill="#00b8ff" />
<rect x="358" y="126" width="7" height="7" fill="#00b8ff" />
<rect x="365" y="126" width="6" height="7" fill="#00b8ff" />
<rect x="371" y="126" width="6" height="7" fill="#30f000" />
<rect x="377" y="126" width="7" height="7" fill="#60f000" />
<rect x="384" y="126" width="6" height="7" fill="#a0f000" />
<rect x="390" y="126" width="7" height="7" fill="#fcd860" />
<rect x="198" y="133" width="6" height="6" fill="#1070ff" />
<rect x="204" y="133" width="7" height="6" fill="#1070ff" />
<rect x="211" y="133" width="6" height="6" fill="#1070ff" />
<rect x="217" y="133" width="6" height="6" fill="#1070ff" />
<rect x="223" y="133" width="7" height="6" fill="#1098ff" />
<rect x="230" y="133" width="6" height="6" fill="#1088ff" />
<rect x="236" y="133" width="7" height="6" fill="#1080ff" />
<rect x="243" y="133" width="6" height="6" fill="#1070ff" />
<rect x="249" y="133" width="6" height="6" fill="#1070ff" />
<rect x="255" y="133" width="7" height="6" fill="#1070ff" />
<rect x="262" y="133" width="6" height="6" fill="#1070ff" />
<rect x="268" y="133" width="7" height="6" fill="#1070ff" />
<rect x="275" y="133" width="6" height="6" fill="#1070ff" />
<rect x="281" y="133" width="7" height="6" fill="#1070ff" />
<rect x="288" y="133" width="6" height="6" fill="#4010f0" />
<rect x="294" y="133" width="6" height="6" fill="#4010f0" />
<rect x="300" y="133" width="7" height="6" fill="#4010f0" />
<rect x="307" y="133" width="6" height="6" fill="#4010f0" />
<rect x="313" y="133" width="7" height="6" fill="#4010f0" />
<rect x="320" y="133" width="6" height="6" fill="#0820f0" />
<rect x="326" y="133" width="7" height="6" fill="#00e0ff" />
<rect x="333" y="133" width="6" height="6" fill="#00e0ff" />
<rect x="339" y="133" width="6" height="6" fill="#00e0ff" />
<rect x="345" y="133" width="7" height="6" fill="#00b8ff" />
<rect x="352" y="133" width="6" height="6" fill="#00b8ff" />
<rect x="358" y="133" width="7" height="6" fill="#00b8ff" />
<rect x="365" y="133" width="6" height="6" fill="#00b8ff" />
<rect x="371" y="133" width="6" height="6" fill="#30f000" />
<rect x="377" y="133" width="7" height="6" fill="#60f000" />
<rect x="384" y="133" width="6" height="6" fill="#a0f000" />
<rect x="390" y="133" width="7" height="6" fill="#fcd860" />
<rect x="198" y="139" width="6" height="7" fill="#0848ff" />
<rect x="204" y="139" width="7" height="7" fill="#0848ff" />
<rect x="211" y="139" width="6" height="7" fill="#0848ff" />
<rect x="217" y="139" width="6" height="7" fill="#0848ff" />
<rect x="223" y="139" width="7" height="7" fill="#1080ff" />
<rect x="230" y="139" width="6" height="7" fill="#1090ff" />
<rect x="236" y="139" width="7" height="7" fill="#1090ff" />
<rect x="243" y="139" width="6" height="7" fill="#1040ff" />
<rect x="249" y="139" width="6" height="7" fill="#1040ff" />
<rect x="255" y="139" width="7" height="7" fill="#1040ff" />
<rect x="262" y="139" width="6" height="7" fill="#1040ff" />
<rect x="268" y="139" width="7" height="7" fill="#1040ff" />
<rect x="275" y="139" width="6" height="7" fill="#1040ff" />
<rect x="281" y="139" width="7" height="7" fill="#4010f0" />
<rect x="288" y="139" width="6" height="7" fill="#1088ff" />
<rect x="294" y="139" width="6" height="7" fill="#1070ff" />
<rect x="300" y="139" width="7" height="7" fill="#1070ff" />
<rect x="307" y="139" width="6" height="7" fill="#1070ff" />
<rect x="313" y="139" width="7" height="7" fill="#1070ff" />
<rect x="320" y="139" width="6" height="7" fill="#10b0ff" />
<rect x="326" y="139" width="7" height="7" fill="#00d0ff" />
<rect x="333" y="139" width="6" height="7" fill="#00d0ff" />
<rect x="339" y="139" width="6" height="7" fill="#00d0ff" />
<rect x="345" y="139" width="7" height="7" fill="#10a8ff" />
<rect x="352" y="139" width="6" height="7" fill="#10a8ff" />
<rect x="358" y="139" width="7" height="7" fill="#10a8ff" />
<rect x="365" y="139" width="6" height="7" fill="#1090ff" />
<rect x="371" y="139" width="6" height="7" fill="#20f000" />
<rect x="377" y="139" width="7" height="7" fill="#30f000" />
<rect x="384" y="139" width="6" height="7" fill="#a0f000" />
<rect x="390" y="139" width="7" height="7" fill="#fcd890" />
<rect x="198" y="146" width="6" height="6" fill="#0848ff" />
<rect x="204" y="146" width="7" height="6" fill="#0848ff" />
<rect x="211" y="146" width="6" height="6" fill="#0848ff" />
<rect x="217" y="146" width="6" height="6" fill="#0848ff" />
<rect x="223" y="146" width="7" height="6" fill="#1080ff" />
<rect x="230" y="146" width="6" height="6" fill="#1090ff" />
<rect x="236" y="146" width="7" height="6" fill="#1090ff" />
<rect x="243" y="146" width="6" height="6" fill="#0828f8" />
<rect x="249" y="146" width="6" height="6" fill="#0818f0" />
<rect x="255" y="146" width="7" height="6" fill="#0818f0" />
<rect x="262" y="146" width="6" height="6" fill="#0818f0" />
<rect x="268" y="146" width="7" height="6" fill="#4010f0" />
<rect x="275" y="146" width="6" height="6" fill="#4010f0" />
<rect x="281" y="146" width="7" height="6" fill="#1030ff" />
<rect x="288" y="146" width="6" height="6" fill="#1088ff" />
<rect x="294" y="146" width="6" height="6" fill="#1070ff" />
<rect x="300" y="146" width="7" height="6" fill="#1070ff" />
<rect x="307" y="146" width="6" height="6" fill="#1070ff" />
<rect x="313" y="146" width="7" height="6" fill="#1070ff" />
<rect x="320" y="146" width="6" height="6" fill="#10b0ff" />
<rect x="326" y="146" width="7" height="6" fill="#00d0ff" />
<rect x="333" y="146" width="6" height="6" fill="#00d0ff" />
<rect x="339" y="146" width="6" height="6" fill="#00d0ff" />
<rect x="345" y="146" width="7" height="6" fill="#10a8ff" />
<rect x="352" y="146" width="6" height="6" fill="#10a8ff" />
<rect x="358" y="146" width="7" height="6" fill="#10a8ff" />
<rect x="365" y="146" width="6" height="6" fill="#10a8ff" />
<rect x="371" y="146" width="6" height="6" fill="#20f000" />
<rect x="377" y="146" width="7" height="6" fill="#30f000" />
<rect x="384" y="146" width="6" height="6" fill="#a0f000" />
<rect x="390" y="146" width="7" height="6" fill="#fcd890" />
<rect x="198" y="152" width="6" height="7" fill="#0848ff" />
<rect x="204" y="152" width="7" height="7" fill="#0848ff" />
<rect x="211" y="152" width="6" height="7" fill="#0848ff" />
<rect x="217" y="152" width="6" height="7" fill="#0848ff" />
<rect x="223" y="152" width="7" height="7" fill="#1080ff" />
<rect x="230" y="152" width="6" height="7" fill="#1090ff" />
<rect x="236" y="152" width="7" height="7" fill="#1090ff" />
<rect x="243" y="152" width="6" height="7" fill="#0818f0" />
<rect x="249" y="152" width="6" height="7" fill="#0818f0" />
<rect x="255" y="152" width="7" height="7" fill="#0818f0" />
<rect x="262" y="152" width="6" height="7" fill="#0818f0" />
<rect x="268" y="152" width="7" height="7" fill="#4010f0" />
<rect x="275" y="152" width="6" height="7" fill="#4010f0" />
<rect x="281" y="152" width="7" height="7" fill="#1030ff" />
<rect x="288" y="152" width="6" height="7" fill="#1088ff" />
<rect x="294" y="152" width="6" height="7" fill="#1070ff" />
<rect x="300" y="152" width="7" height="7" fill="#1070ff" />
<rect x="307" y="152" width="6" height="7" fill="#1070ff" />
<rect x="313" y="152" width="7" height="7" fill="#1070ff" />
<rect x="320" y="152" width="6" height="7" fill="#10b0ff" />
<rect x="326" y="152" width="7" height="7" fill="#00d0ff" />
<rect x="333" y="152" width="6" height="7" fill="#00d0ff" />
<rect x="339" y="152" width="6" height="7" fill="#00d0ff" />
<rect x="345" y="152" width="7" height="7" fill="#10a8ff" />
<rect x="352" y="152" width="6" height="7" fill="#10a8ff" />
<rect x="358" y="152" width="7" height="7" fill="#10a8ff" />
<rect x="365" y="152" width="6" height="7" fill="#10a8ff" />
<rect x="371" y="152" width="6" height="7" fill="#20f000" />
<rect x="377" y="152" width="7" height="7" fill="#30f000" />
<rect x="384" y="152" width="6" height="7" fill="#a0f000" />
<rect x="390" y="152" width="7" height="7" fill="#fcd890" />
<rect x="198" y="159" width="6" height="6" fill="#0848ff" />
<rect x="204" y="159" width="7" height="6" fill="#0848ff" />
<rect x="211" y="159" width="6" height="6" fill="#0848ff" />
<rect x="217" y="159" width="6" height="6" fill="#0848ff" />
<rect x="223" y="159" width="7" height="6" fill="#1080ff" />
<rect x="230" y="159" width="6" height="6" fill="#1090ff" />
<rect x="236" y="159" width="7" height="6" fill="#1090ff" />
<rect x="243" y="159" width="6" height="6" fill="#0818f0" />
<rect x="249" y="159" width="6" height="6" fill="#0818f0" />
<rect x="255" y="159" width="7" height="6" fill="#0818f0" />
<rect x="262" y="159" width="6" height="6" fill="#4010f0" />
<rect x="268" y="159" width="7" height="6" fill="#0818f0" />
<rect x="275" y="159" width="6" height="6" fill="#0818f0" />
<rect x="281" y="159" width="7" height="6" fill="#1030ff" />
<rect x="288" y="159" width="6" height="6" fill="#1088ff" />
<rect x="294" y="159" width="6" height="6" fill="#1070ff" />
<rect x="300" y="159" width="7" height="6" fill="#1070ff" />
<rect x="307" y="159" width="6" height="6" fill="#1070ff" />
<rect x="313" y="159" width="7" height="6" fill="#1070ff" />
<rect x="320" y="159" width="6" height="6" fill="#10b0ff" />
<rect x="326" y="159" width="7" height="6" fill="#00d0ff" />
<rect x="333" y="159" width="6" height="6" fill="#00d0ff" />
<rect x="339" y="159" width="6" height="6" fill="#00d0ff" />
<rect x="345" y="159" width="7" height="6" fill="#10a8ff" />
<rect x="352" y="159" width="6" height="6" fill="#10a8ff" />
<rect x="358" y="159" width="7" height="6" fill="#10a8ff" />
<rect x="365" y="159" width="6" height="6" fill="#10a8ff" />
<rect x="371" y="159" width="6" height="6" fill="#20f000" />
<rect x="377" y="159" width="7" height="6" fill="#30f000" />
<rect x="384" y="159" width="6" height="6" fill="#a0f000" />
<rect x="390" y="159" width="7" height="6" fill="#fcd890" />
<rect x="198" y="165" width="6" height="7" fill="#0848ff" />
<rect x="204" y="165" width="7" height="7" fill="#0848ff" />
<rect x="211" y="165" width="6" height="7" fill="#0848ff" />
<rect x="217" y="165" width="6" height="7" fill="#0848ff" />
<rect x="223" y="165" width="7" height="7" fill="#1080ff" />
<rect x="230" y="165" width="6" height="7" fill="#1090ff" />
<rect x="236" y="165" width="7" height="7" fill="#1090ff" />
<rect x="243" y="165" width="6" height="7" fill="#0818f0" />
<rect x="249" y="165" width="6" height="7" fill="#0818f0" />
<rect x="255" y="165" width="7" height="7" fill="#4010f0" />
<rect x="262" y="165" width="6" height="7" fill="#0818f0" />
<rect x="268" y="165" width="7" height="7" fill="#0818f0" />
<rect x="275" y="165" width="6" height="7" fill="#0818f0" />
<rect x="281" y="165" width="7" height="7" fill="#1030ff" />
<rect x="288" y="165" width="6" height="7" fill="#1088ff" />
<rect x="294" y="165" width="6" height="7" fill="#1070ff" />
<rect x="300" y="165" width="7" height="7" fill="#1070ff" />
<rect x="307" y="165" width="6" height="7" fill="#1070ff" />
<rect x="313" y="165" width="7" height="7" fill="#1070ff" />
<rect x="320" y="165" width="6" height="7" fill="#10b0ff" />
<rect x="326" y="165" width="7" height="7" fill="#00d0ff" />
<rect x="333" y="165" width="6" height="7" fill="#00d0ff" />
<rect x="339" y="165" width="6" height="7" fill="#00d0ff" />
<rect x="345" y="165" width="7" height="7" fill="#10a8ff" />
<rect x="352" y="165" width="6" height="7" fill="#10a8ff" />
<rect x="358" y="165" width="7" height="7" fill="#10a8ff" />
<rect x="365" y="165" width="6" height="7" fill="#10a8ff" />
<rect x="371" y="165" width="6" height="7" fill="#20f000" />
<rect x="377" y="165" width="7" height="7" fill="#30f000" />
<rect x="384" y="165" width="6" height="7" fill="#a0f000" />
<rect x="390" y="165" width="7" height="7" fill="#fcd890" />
<rect x="198" y="172" width="6" height="6" fill="#0848ff" />
<rect x="204" y="172" width="7" height="6" fill="#0848ff" />
<rect x="211" y="172" width="6" height="6" fill="#0848ff" />
<rect x="217" y="172" width="6" height="6" fill="#0848ff" />
<rect x="223" y="172" width="7" height="6" fill="#1080ff" />
<rect x="230" y="172" width="6" height="6" fill="#1090ff" />
<rect x="236" y="172" width="7" height="6" fill="#1090ff" />
<rect x="243" y="172" width="6" height="6" fill="#0818f0" />
<rect x="249" y="172" width="6" height="6" fill="#4010f0" />
<rect x="255" y="172" width="7" height="6" fill="#0818f0" />
<rect x="262" y="172" width="6" height="6" fill="#0818f0" />
<rect x="268" y="172" width="7" height="6" fill="#0818f0" />
<rect x="275" y="172" width="6" height="6" fill="#0818f0" />
<rect x="281" y="172" width="7" height="6" fill="#1030ff" />
<rect x="288" y="172" width="6" height="6" fill="#1088ff" />
<rect x="294" y="172" width="6" height="6" fill="#1070ff" />
<rect x="300" y="172" width="7" height="6" fill="#1070ff" />
<rect x="307" y="172" width="6" height="6" fill="#1070ff" />
<rect x="313" y="172" width="7" height="6" fill="#1070ff" />
<rect x="320" y="172" width="6" height="6" fill="#10b0ff" />
<rect x="326" y="172" width="7" height="6" fill="#00d0ff" />
<rect x="333" y="172" width="6" height="6" fill="#00d0ff" />
<rect x="339" y="172" width="6" height="6" fill="#00d0ff" />
<rect x="345" y="172" width="7" height="6" fill="#10a8ff" />
<rect x="352" y="172" width="6" height="6" fill="#10a8ff" />
<rect x="358" y="172" width="7" height="6" fill="#10a8ff" />
<rect x="365" y="172" width="6" height="6" fill="#10a8ff" />
<rect x="371" y="172" width="6" height="6" fill="#20f000" />
<rect x="377" y="172" width="7" height="6" fill="#30f000" />
<rect x="384" y="172" width="6" height="6" fill="#a0f000" />
<rect x="390" y="172" width="7" height="6" fill="#fcd890" />
<rect x="198" y="178" width="6" height="7" fill="#0848ff" />
<rect x="204" y="178" width="7" height="7" fill="#0848ff" />
<rect x="211" y="178" width="6" height="7" fill="#0848ff" />
<rect x="217" y="178" width="6" height="7" fill="#0848ff" />
<rect x="223" y="178" width="7" height="7" fill="#1080ff" />
<rect x="230" y="178" width="6" height="7" fill="#1090ff" />
<rect x="236" y="178" width="7" height="7" fill="#1090ff" />
<rect x="243" y="178" width="6" height="7" fill="#4010f0" />
<rect x="249" y="178" width="6" height="7" fill="#0818f0" />
<rect x="255" y="178" width="7" height="7" fill="#0818f0" />
<rect x="262" y="178" width="6" height="7" fill="#0818f0" />
<rect x="268" y="178" width="7" height="7" fill="#0818f0" />
<rect x="275" y="178" width="6" height="7" fill="#0818f0" />
<rect x="281" y="178" width="7" height="7" fill="#1030ff" />
<rect x="288" y="178" width="6" height="7" fill="#1088ff" />
<rect x="294" y="178" width="6" height="7" fill="#1070ff" />
<rect x="300" y="178" width="7" height="7" fill="#1070ff" />
<rect x="307" y="178" width="6" height="7" fill="#1070ff" />
<rect x="313" y="178" width="7" height="7" fill="#1070ff" />
<rect x="320" y="178" width="6" height="7" fill="#10b0ff" />
<rect x="326" y="178" width="7" height="7" fill="#00d0ff" />
<rect x="333" y="178" width="6" height="7" fill="#00d0ff" />
<rect x="339" y="178" width="6" height="7" fill="#00d0ff" />
<rect x="345" y="178" width="7" height="7" fill="#10a8ff" />
<rect x="352" y="178" width="6" height="7" fill="#10a8ff" />
<rect x="358" y="178" width="7" height="7" fill="#10a8ff" />
<rect x="365" y="178" width="6" height="7" fill="#10a8ff" />
<rect x="371" y="178" width="6" height="7" fill="#20f000" />
<rect x="377" y="178" width="7" height="7" fill="#30f000" />
<rect x="384" y="178" width="6" height="7" fill="#a0f000" />
<rect x="390" y="178" width="7" height="7" fill="#fcd890" />
<rect x="198" y="185" width="6" height="7" fill="#0010f0" />
<rect x="204" y="185" width="7" height="7" fill="#0010f0" />
<rect x="211" y="185" width="6" height="7" fill="#0010f0" />
<rect x="217" y="185" width="6" height="7" fill="#0010f0" />
<rect x="223" y="185" width="7" height="7" fill="#1060ff" />
<rect x="230" y="185" width="6" height="7" fill="#4010f0" />
<rect x="236" y="185" width="7" height="7" fill="#4010f0" />
<rect x="243" y="185" width="6" height="7" fill="#1080ff" />
<rect x="249" y="185" width="6" height="7" fill="#1080ff" />
<rect x="255" y="185" width="7" height="7" fill="#1080ff" />
<rect x="262" y="185" width="6" height="7" fill="#1080ff" />
<rect x="268" y="185" width="7" height="7" fill="#1080ff" />
<rect x="275" y="185" width="6" height="7" fill="#1080ff" />
<rect x="281" y="185" width="7" height="7" fill="#1080ff" />
<rect x="288" y="185" width="6" height="7" fill="#10a0ff" />
<rect x="294" y="185" width="6" height="7" fill="#1090ff" />
<rect x="300" y="185" width="7" height="7" fill="#1090ff" />
<rect x="307" y="185" width="6" height="7" fill="#1090ff" />
<rect x="313" y="185" width="7" height="7" fill="#1090ff" />
<rect x="320" y="185" width="6" height="7" fill="#00d0ff" />
<rect x="326" y="185" width="7" height="7" fill="#00d8ff" />
<rect x="333" y="185" width="6" height="7" fill="#00d8ff" />
<rect x="339" y="185" width="6" height="7" fill="#00d8ff" />
<rect x="345" y="185" width="7" height="7" fill="#00d0ff" />
<rect x="352" y="185" width="6" height="7" fill="#00d0ff" />
<rect x="358" y="185" width="7" height="7" fill="#00d0ff" />
<rect x="365" y="185" width="6" height="7" fill="#00d0ff" />
<rect x="371" y="185" width="6" height="7" fill="#60f000" />
<rect x="377" y="185" width="7" height="7" fill="#10f020" />
<rect x="384" y="185" width="6" height="7" fill="#a0f000" />
<rect x="390" y="185" width="7" height="7" fill="#fcd850" />
<rect x="198" y="192" width="6" height="7" fill="#0010f0" />
<rect x="204" y="192" width="7" height="7" fill="#0010f0" />
<rect x="211" y="192" width="6" height="7" fill="#0010f0" />
<rect x="217" y="192" width="6" height="7" fill="#0010f0" />
<rect x="223" y="192" width="7" height="7" fill="#1060ff" />
<rect x="230" y="192" width="6" height="7" fill="#4010f0" />
<rect x="236" y="192" width="7" height="7" fill="#4010f0" />
<rect x="243" y="192" width="6" height="7" fill="#1080ff" />
<rect x="249" y="192" width="6" height="7" fill="#1080ff" />
<rect x="255" y="192" width="7" height="7" fill="#1080ff" />
<rect x="262" y="192" width="6" height="7" fill="#1080ff" />
<rect x="268" y="192" width="7" height="7" fill="#1080ff" />
<rect x="275" y="192" width="6" height="7" fill="#1080ff" />
<rect x="281" y="192" width="7" height="7" fill="#1080ff" />
<rect x="288" y="192" width="6" height="7" fill="#10a0ff" />
<rect x="294" y="192" width="6" height="7" fill="#1090ff" />
<rect x="300" y="192" width="7" height="7" fill="#1090ff" />
<rect x="307" y="192" width="6" height="7" fill="#1090ff" />
<rect x="313" y="192" width="7" height="7" fill="#1090ff" />
<rect x="320" y="192" width="6" height="7" fill="#00d0ff" />
<rect x="326" y="192" width="7" height="7" fill="#00d8ff" />
<rect x="333" y="192" width="6" height="7" fill="#00d8ff" />
<rect x="339" y="192" width="6" height="7" fill="#00d8ff" />
<rect x="345" y="192" width="7" height="7" fill="#00d0ff" />
<rect x="352" y="192" width="6" height="7" fill="#00d0ff" />
<rect x="358" y="192" width="7" height="7" fill="#00d0ff" />
<rect x="365" y="192" width="6" height="7" fill="#00d0ff" />
<rect x="371" y="192" width="6" height="7" fill="#60f000" />
<rect x="377" y="192" width="7" height="7" fill="#10f020" />
<rect x="384" y="192" width="6" height="7" fill="#a0f000" />
<rect x="390" y="192" width="7" height="7" fill="#fcd850" />
<rect x="198" y="199" width="6" height="7" fill="#0010f0" />
<rect x="204" y="199" width="7" height="7" fill="#0010f0" />
<rect x="211" y="199" width="6" height="7" fill="#0010f0" />
<rect x="217" y="199" width="6" height="7" fill="#0010f0" />
<rect x="223" y="199" width="7" height="7" fill="#4010f0" />
<rect x="230" y="199" width="6" height="7" fill="#1050ff" />
<rect x="236" y="199" width="7" height="7" fill="#1050ff" />
<rect x="243" y="199" width="6" height="7" fill="#10a0ff" />
<rect x="249" y="199" width="6" height="7" fill="#10a0ff" />
<rect x="255" y="199" width="7" height="7" fill="#10a0ff" />
<rect x="262" y="199" width="6" height="7" fill="#10a0ff" />
<rect x="268" y="199" width="7" height="7" fill="#10a0ff" />
<rect x="275" y="199" width="6" height="7" fill="#10a0ff" />
<rect x="281" y="199" width="7" height="7" fill="#10a0ff" />
<rect x="288" y="199" width="6" height="7" fill="#10b0ff" />
<rect x="294" y="199" width="6" height="7" fill="#10a0ff" />
<rect x="300" y="199" width="7" height="7" fill="#10a0ff" />
<rect x="307" y="199" width="6" height="7" fill="#10a0ff" />
<rect x="313" y="199" width="7" height="7" fill="#10a0ff" />
<rect x="320" y="199" width="6" height="7" fill="#10f040" />
<rect x="326" y="199" width="7" height="7" fill="#10f040" />
<rect x="333" y="199" width="6" height="7" fill="#10f040" />
<rect x="339" y="199" width="6" height="7" fill="#10f040" />
<rect x="345" y="199" width="7" height="7" fill="#10f040" />
<rect x="352" y="199" width="6" height="7" fill="#10f040" />
<rect x="358" y="199" width="7" height="7" fill="#10f040" />
<rect x="365" y="199" width="6" height="7" fill="#10f040" />
<rect x="371" y="199" width="6" height="7" fill="#90f000" />
<rect x="377" y="199" width="7" height="7" fill="#10f020" />
<rect x="384" y="199" width="6" height="7" fill="#e0f000" />
<rect x="390" y="199" width="7" height="7" fill="#fcd850" />
<rect x="198" y="206" width="6" height="6" fill="#3810f0" />
<rect x="204" y="206" width="7" height="6" fill="#3810f0" />
<rect x="211" y="206" width="6" height="6" fill="#3810f0" />
<rect x="217" y="206" width="6" height="6" fill="#3810f0" />
<rect x="223" y="206" width="7" height="6" fill="#0010f0" />
<rect x="230" y="206" width="6" height="6" fill="#0010f0" />
<rect x="236" y="206" width="7" height="6" fill="#0010f0" />
<rect x="243" y="206" width="6" height="6" fill="#1048ff" />
<rect x="249" y="206" width="6" height="6" fill="#1048ff" />
<rect x="255" y="206" width="7" height="6" fill="#1048ff" />
<rect x="262" y="206" width="6" height="6" fill="#1048ff" />
<rect x="268" y="206" width="7" height="6" fill="#1048ff" />
<rect x="275" y="206" width="6" height="6" fill="#1048ff" />
<rect x="281" y="206" width="7" height="6" fill="#1048ff" />
<rect x="288" y="206" width="6" height="6" fill="#1080ff" />
<rect x="294" y="206" width="6" height="6" fill="#1070ff" />
<rect x="300" y="206" width="7" height="6" fill="#1070ff" />
<rect x="307" y="206" width="6" height="6" fill="#1070ff" />
<rect x="313" y="206" width="7" height="6" fill="#1070ff" />
<rect x="320" y="206" width="6" height="6" fill="#10b8ff" />
<rect x="326" y="206" width="7" height="6" fill="#00c8ff" />
<rect x="333" y="206" width="6" height="6" fill="#00c8ff" />
<rect x="339" y="206" width="6" height="6" fill="#00c8ff" />
<rect x="345" y="206" width="7" height="6" fill="#10b0ff" />
<rect x="352" y="206" width="6" height="6" fill="#10b0ff" />
<rect x="358" y="206" width="7" height="6" fill="#10b0ff" />
<rect x="365" y="206" width="6" height="6" fill="#10b0ff" />
<rect x="371" y="206" width="6" height="6" fill="#60f000" />
<rect x="377" y="206" width="7" height="6" fill="#10f020" />
<rect x="384" y="206" width="6" height="6" fill="#a0f000" />
<rect x="390" y="206" width="7" height="6" fill="#fcd898" />
<rect x="198" y="212" width="6" height="6" fill="#3810f0" />
<rect x="204" y="212" width="7" height="6" fill="#3810f0" />
<rect x="211" y="212" width="6" height="6" fill="#3810f0" />
<rect x="217" y="212" width="6" height="6" fill="#3810f0" />
<rect x="223" y="212" width="7" height="6" fill="#0010f0" />
<rect x="230" y="212" width="6" height="6" fill="#0010f0" />
<rect x="236" y="212" width="7" height="6" fill="#0010f0" />
<rect x="243" y="212" width="6" height="6" fill="#1048ff" />
<rect x="249" y="212" width="6" height="6" fill="#1048ff" />
<rect x="255" y="212" width="7" height="6" fill="#1048ff" />
<rect x="262" y="212" width="6" height="6" fill="#1048ff" />
<rect x="268" y="212" width="7" height="6" fill="#1048ff" />
<rect x="275" y="212" width="6" height="6" fill="#1048ff" />
<rect x="281" y="212" width="7" height="6" fill="#1048ff" />
<rect x="288" y="212" width="6" height="6" fill="#1080ff" />
<rect x="294" y="212" width="6" height="6" fill="#1070ff" />
<rect x="300" y="212" width="7" height="6" fill="#1070ff" />
<rect x="307" y="212" width="6" height="6" fill="#1070ff" />
<rect x="313" y="212" width="7" height="6" fill="#1070ff" />
<rect x="320" y="212" width="6" height="6" fill="#10b8ff" />
<rect x="326" y="212" width="7" height="6" fill="#00c8ff" />
<rect x="333" y="212" width="6" height="6" fill="#00c8ff" />
<rect x="339" y="212" width="6" height="6" fill="#00c8ff" />
<rect x="345" y="212" width="7" height="6" fill="#10b0ff" />
<rect x="352" y="212" width="6" height="6" fill="#10b0ff" />
<rect x="358" y="212" width="7" height="6" fill="#10b0ff" />
<rect x="365" y="212" width="6" height="6" fill="#10b0ff" />
<rect x="371" y="212" width="6" height="6" fill="#60f000" />
<rect x="377" y="212" width="7" height="6" fill="#10f020" />
<rect x="384" y="212" width="6" height="6" fill="#a0f000" />
<rect x="390" y="212" width="7" height="6" fill="#fcd898" />
<rect x="198" y="218" width="6" height="6" fill="#3810f0" />
<rect x="204" y="218" width="7" height="6" fill="#3810f0" />
<rect x="211" y="218" width="6" height="6" fill="#3810f0" />
<rect x="217" y="218" width="6" height="6" fill="#3810f0" />
<rect x="223" y="218" width="7" height="6" fill="#0010f0" />
<rect x="230" y="218" width="6" height="6" fill="#0010f0" />
<rect x="236" y="218" width="7" height="6" fill="#0010f0" />
<rect x="243" y="218" width="6" height="6" fill="#1048ff" />
<rect x="249" y="218" width="6" height="6" fill="#1048ff" />
<rect x="255" y="218" width="7" height="6" fill="#1048ff" />
<rect x="262" y="218" width="6" height="6" fill="#1048ff" />
<rect x="268" y="218" width="7" height="6" fill="#1048ff" />
<rect x="275" y="218" width="6" height="6" fill="#1048ff" />
<rect x="281" y="218" width="7" height="6" fill="#1048ff" />
<rect x="288" y="218" width="6" height="6" fill="#1080ff" />
<rect x="294" y="218" width="6" height="6" fill="#1070ff" />
<rect x="300" y="218" width="7" height="6" fill="#1070ff" />
<rect x="307" y="218" width="6" height="6" fill="#1070ff" />
<rect x="313" y="218" width="7" height="6" fill="#1070ff" />
<rect x="320" y="218" width="6" height="6" fill="#10b8ff" />
<rect x="326" y="218" width="7" height="6" fill="#00c8ff" />
<rect x="333" y="218" width="6" height="6" fill="#00c8ff" />
<rect x="339" y="218" width="6" height="6" fill="#00c8ff" />
<rect x="345" y="218" width="7" height="6" fill="#10b0ff" />
<rect x="352" y="218" width="6" height="6" fill="#10b0ff" />
<rect x="358" y="218" width="7" height="6" fill="#10b0ff" />
<rect x="365" y="218" width="6" height="6" fill="#10b0ff" />
<rect x="371" y="218" width="6" height="6" fill="#60f000" />
<rect x="377" y="218" width="7" height="6" fill="#10f020" />
<rect x="384" y="218" width="6" height="6" fill="#a0f000" />
<rect x="390" y="218" width="7" height="6" fill="#fcd898" />
<rect x="198" y="224" width="6" height="6" fill="#3810f0" />
<rect x="204" y="224" width="7" height="6" fill="#3810f0" />
<rect x="211" y="224" width="6" height="6" fill="#3810f0" />
<rect x="217" y="224" width="6" height="6" fill="#3810f0" />
<rect x="223" y="224" width="7" height="6" fill="#0010f0" />
<rect x="230" y="224" width="6" height="6" fill="#0010f0" />
<rect x="236" y="224" width="7" height="6" fill="#0010f0" />
<rect x="243" y="224" width="6" height="6" fill="#1048ff" />
<rect x="249" y="224" width="6" height="6" fill="#1048ff" />
<rect x="255" y="224" width="7" height="6" fill="#1048ff" />
<rect x="262" y="224" width="6" height="6" fill="#1048ff" />
<rect x="268" y="224" width="7" height="6" fill="#1048ff" />
<rect x="275" y="224" width="6" height="6" fill="#1048ff" />
<rect x="281" y="224" width="7" height="6" fill="#1048ff" />
<rect x="288" y="224" width="6" height="6" fill="#1080ff" />
<rect x="294" y="224" width="6" height="6" fill="#1070ff" />
<rect x="300" y="224" width="7" height="6" fill="#1070ff" />
<rect x="307" y="224" width="6" height="6" fill="#1070ff" />
<rect x="313" y="224" width="7" height="6" fill="#1070ff" />
<rect x="320" y="224" width="6" height="6" fill="#10b8ff" />
<rect x="326" y="224" width="7" height="6" fill="#00c8ff" />
<rect x="333" y="224" width="6" height="6" fill="#00c8ff" />
<rect x="339" y="224" width="6" height="6" fill="#00c8ff" />
<rect x="345" y="224" width="7" height="6" fill="#10b0ff" />
<rect x="352" y="224" width="6" height="6" fill="#10b0ff" />
<rect x="358" y="224" width="7" height="6" fill="#10b0ff" />
<rect x="365" y="224" width="6" height="6" fill="#10b0ff" />
<rect x="371" y="224" width="6" height="6" fill="#60f000" />
<rect x="377" y="224" width="7" height="6" fill="#10f020" />
<rect x="384" y="224" width="6" height="6" fill="#a0f000" />
<rect x="390" y="224" width="7" height="6" fill="#fcd898" />
</g></g>
<defs><linearGradient id="cb" x1="0" x2="1" y1="0" y2="0"><stop offset="0" stop-color="#1818b0"/><stop offset="0.12" stop-color="#0000e8"/><stop offset="0.22" stop-color="#0048ff"/><stop offset="0.3" stop-color="#00b0d0"/><stop offset="0.36" stop-color="#00e050"/><stop offset="0.45" stop-color="#10f010"/><stop offset="0.56" stop-color="#a0f010"/><stop offset="0.68" stop-color="#f0f000"/><stop offset="0.78" stop-color="#fce040"/><stop offset="0.88" stop-color="#fce0a8"/><stop offset="1" stop-color="#fce8c8"/></linearGradient><filter id="hb" x="-1%" y="-1%" width="102%" height="102%"><feGaussianBlur stdDeviation="0.45"/></filter><clipPath id="clipH"><rect x="197.5" y="29.1" width="198.4" height="201.2"/></clipPath><clipPath id="clipA"><rect x="75.3" y="33" width="90.7" height="203"/></clipPath></defs>
<rect x="370" y="6.7" width="24.3" height="11" fill="url(#cb)" stroke="#999" stroke-width="0.3"/>
<line x1="370.3" y1="17.7" x2="370.3" y2="19" stroke="#555" stroke-width="0.4" />
<line x1="376.3" y1="17.7" x2="376.3" y2="19" stroke="#555" stroke-width="0.4" />
<line x1="382.2" y1="17.7" x2="382.2" y2="19" stroke="#555" stroke-width="0.4" />
<line x1="388.2" y1="17.7" x2="388.2" y2="19" stroke="#555" stroke-width="0.4" />
<line x1="394.1" y1="17.7" x2="394.1" y2="19" stroke="#555" stroke-width="0.4" />
<text x="370.4" y="25.9" font-size="4.2" fill="#000" font-weight="bold" text-anchor="middle" >0</text>
<text x="381.9" y="25.9" font-size="4.2" fill="#000" font-weight="bold" text-anchor="middle" >10000</text>
<text x="398.6" y="34.0" font-size="4.9" fill="#000" font-weight="normal" text-anchor="start" stroke="#000" stroke-width="0.13">pangolin_EPI_ISL_610156</text>
<text x="398.6" y="40.5" font-size="4.9" fill="#000" font-weight="normal" text-anchor="start" stroke="#000" stroke-width="0.13">MF794115.1-MERS-CoV-C1272_2018</text>
<text x="398.6" y="47.0" font-size="4.9" fill="#000" font-weight="normal" text-anchor="start" stroke="#000" stroke-width="0.13">pangolin_EPI_ISL_410544</text>
<text x="398.6" y="53.5" font-size="4.9" fill="#000" font-weight="normal" text-anchor="start" stroke="#000" stroke-width="0.13">bat_EPI_ISL_412976</text>
<text x="398.6" y="60.0" font-size="4.9" fill="#000" font-weight="normal" text-anchor="start" stroke="#000" stroke-width="0.13">KY417150.1_Bat-SARS-like-coronavirus-Rs4874</text>
<text x="398.6" y="66.5" font-size="4.9" fill="#000" font-weight="normal" text-anchor="start" stroke="#000" stroke-width="0.13">bat_EPI_ISL_1699449</text>
<text x="398.6" y="73.0" font-size="4.9" fill="#000" font-weight="normal" text-anchor="start" stroke="#000" stroke-width="0.13">bat_EPI_ISL_1699443</text>
<text x="398.6" y="79.5" font-size="4.9" fill="#000" font-weight="normal" text-anchor="start" stroke="#000" stroke-width="0.13">bat_EPI_ISL_1699447</text>
<text x="398.6" y="86.0" font-size="4.9" fill="#000" font-weight="normal" text-anchor="start" stroke="#000" stroke-width="0.13">bat_EPI_ISL_1699445</text>
<text x="398.6" y="92.5" font-size="4.9" fill="#000" font-weight="normal" text-anchor="start" stroke="#000" stroke-width="0.13">bat_EPI_ISL_1699444</text>
<text x="398.6" y="99.0" font-size="4.9" fill="#000" font-weight="normal" text-anchor="start" stroke="#000" stroke-width="0.13">bat_EPI_ISL_1699448</text>
<text x="398.6" y="105.5" font-size="4.9" fill="#000" font-weight="normal" text-anchor="start" stroke="#000" stroke-width="0.13">pangolin_EPI_ISL_410543</text>
<text x="398.6" y="112.0" font-size="4.9" fill="#000" font-weight="normal" text-anchor="start" stroke="#000" stroke-width="0.13">pangolin_EPI_ISL_410542</text>
<text x="398.6" y="118.5" font-size="4.9" fill="#000" font-weight="normal" text-anchor="start" stroke="#000" stroke-width="0.13">pangolin_EPI_ISL_410541</text>
<text x="398.6" y="125.0" font-size="4.9" fill="#000" font-weight="normal" text-anchor="start" stroke="#000" stroke-width="0.13">pangolin_EPI_ISL_410538</text>
<text x="398.6" y="131.5" font-size="4.9" fill="#000" font-weight="normal" text-anchor="start" stroke="#000" stroke-width="0.13">pangolin_EPI_ISL_410539</text>
<text x="398.6" y="138.0" font-size="4.9" fill="#000" font-weight="normal" text-anchor="start" stroke="#000" stroke-width="0.13">pangolin_EPI_ISL_410540</text>
<text x="398.6" y="144.5" font-size="4.9" fill="#000" font-weight="normal" text-anchor="start" stroke="#000" stroke-width="0.13">bat_EPI_ISL_1898866</text>
<text x="398.6" y="151.0" font-size="4.9" fill="#000" font-weight="normal" text-anchor="start" stroke="#000" stroke-width="0.13">bat_EPI_ISL_852604</text>
<text x="398.6" y="157.5" font-size="4.9" fill="#000" font-weight="normal" text-anchor="start" stroke="#000" stroke-width="0.13">bat_EPI_ISL_852605</text>
<text x="398.6" y="164.0" font-size="4.9" fill="#000" font-weight="normal" text-anchor="start" stroke="#000" stroke-width="0.13">bat_EPI_ISL_402131</text>
<text x="398.6" y="170.5" font-size="4.9" fill="#000" font-weight="normal" text-anchor="start" stroke="#000" stroke-width="0.13">NC_045512_2_Wuhan-Hu-1</text>
<text x="398.6" y="177.0" font-size="4.9" fill="#000" font-weight="normal" text-anchor="start" stroke="#000" stroke-width="0.13">bat_EPI_ISL_1699446</text>
<text x="398.6" y="183.5" font-size="4.9" fill="#000" font-weight="normal" text-anchor="start" stroke="#000" stroke-width="0.13">bat_EPI_ISL_412977</text>
<text x="398.6" y="190.0" font-size="4.9" fill="#000" font-weight="normal" text-anchor="start" stroke="#000" stroke-width="0.13">pangolin_EPI_ISL_412860</text>
<text x="398.6" y="196.5" font-size="4.9" fill="#000" font-weight="normal" text-anchor="start" stroke="#000" stroke-width="0.13">MT084071.1_Pangolin-coronavirus-MP789</text>
<text x="398.6" y="203.0" font-size="4.9" fill="#000" font-weight="normal" text-anchor="start" stroke="#000" stroke-width="0.13">pangolin_EPI_ISL_471468</text>
<text x="398.6" y="209.5" font-size="4.9" fill="#000" font-weight="normal" text-anchor="start" stroke="#000" stroke-width="0.13">pangolin_EPI_ISL_471469</text>
<text x="398.6" y="216.0" font-size="4.9" fill="#000" font-weight="normal" text-anchor="start" stroke="#000" stroke-width="0.13">pangolin_EPI_ISL_471470</text>
<text x="398.6" y="222.5" font-size="4.9" fill="#000" font-weight="normal" text-anchor="start" stroke="#000" stroke-width="0.13">pangolin_EPI_ISL_410721</text>
<text x="398.6" y="229.0" font-size="4.9" fill="#000" font-weight="normal" text-anchor="start" stroke="#000" stroke-width="0.13">pangolin_EPI_ISL_471467</text>
<rect x="494.2" y="54.3" width="19.4" height="26.5" fill="#b040f0" />
<text x="504" y="70.14999999999999" font-size="8.6" fill="#2a0840" font-weight="normal" text-anchor="middle" stroke="#2a0840" stroke-width="0.1">C-1</text>
<rect x="494.2" y="80.8" width="19.4" height="19.400000000000006" fill="#6ab4f4" />
<text x="504" y="93.1" font-size="8.6" fill="#0a1a30" font-weight="normal" text-anchor="middle" stroke="#0a1a30" stroke-width="0.1">C-2</text>
<rect x="494.2" y="100.2" width="19.4" height="38.999999999999986" fill="#88f0c0" />
<text x="504" y="122.29999999999998" font-size="8.6" fill="#102018" font-weight="normal" text-anchor="middle" stroke="#102018" stroke-width="0.1">C-3</text>
<rect x="494.2" y="139.2" width="19.4" height="45.70000000000002" fill="#fcf8b0" />
<text x="504" y="164.65" font-size="8.6" fill="#202010" font-weight="normal" text-anchor="middle" stroke="#202010" stroke-width="0.1">C-4</text>
<rect x="494.2" y="184.9" width="19.4" height="45.400000000000006" fill="#f0a0c8" />
<text x="504" y="210.20000000000002" font-size="8.6" fill="#301020" font-weight="normal" text-anchor="middle" stroke="#301020" stroke-width="0.1">C-5</text>
<line x1="197.7" y1="54.4" x2="513.6" y2="54.4" stroke="#000" stroke-width="0.9" stroke-dasharray="1.8 1.4"/>
<line x1="197.7" y1="80.6" x2="513.6" y2="80.6" stroke="#000" stroke-width="0.9" stroke-dasharray="1.8 1.4"/>
<line x1="197.7" y1="99.9" x2="513.6" y2="99.9" stroke="#000" stroke-width="0.9" stroke-dasharray="1.8 1.4"/>
<line x1="197.7" y1="139.3" x2="513.6" y2="139.3" stroke="#000" stroke-width="0.9" stroke-dasharray="1.8 1.4"/>
<line x1="197.7" y1="185.0" x2="513.6" y2="185.0" stroke="#000" stroke-width="0.9" stroke-dasharray="1.8 1.4"/>
<line x1="197.7" y1="230.3" x2="513.6" y2="230.3" stroke="#000" stroke-width="0.9" stroke-dasharray="1.8 1.4"/>
<line x1="197.9" y1="54.3" x2="197.9" y2="230.3" stroke="#000" stroke-width="0.85" stroke-dasharray="1.8 1.4"/>
<line x1="513.6" y1="54.3" x2="513.6" y2="230.3" stroke="#000" stroke-width="0.85" stroke-dasharray="1.8 1.4"/>
<rect x="528.9" y="107.3" width="120.20" height="25.60" rx="4" fill="#ebdbf9" stroke="#bc8ce4" stroke-width="0.8"/>
<rect x="566.8" y="139.2" width="74.90" height="23.50" rx="4" fill="#dde8f8" stroke="#a0c4ec" stroke-width="0.8"/>
<rect x="703.4" y="122.4" width="72.60" height="40.10" rx="6" fill="#e8f6e2" stroke="#a8dc9c" stroke-width="0.8"/>
<rect x="686.4" y="166.2" width="87.20" height="51.10" rx="5" fill="#fffde0" stroke="#f4e8a8" stroke-width="0.8"/>
<rect x="557.6" y="166.3" width="119.20" height="47.00" rx="7" fill="#fce6ea" stroke="#d45c6c" stroke-width="0.8"/>
<text x="580.7" y="103.7" font-size="9.0" fill="#000" font-weight="normal" text-anchor="start" stroke="#000" stroke-width="0.16">C-1</text>
<text x="550.4" y="153.3" font-size="9.0" fill="#000" font-weight="normal" text-anchor="start" stroke="#000" stroke-width="0.16">C-2</text>
<text x="729.2" y="120.0" font-size="9.0" fill="#000" font-weight="normal" text-anchor="start" stroke="#000" stroke-width="0.16">C-3</text>
<text x="777.3" y="193.7" font-size="9.0" fill="#000" font-weight="normal" text-anchor="start" stroke="#000" stroke-width="0.16">C-4</text>
<text x="542.8" y="193.7" font-size="9.0" fill="#000" font-weight="normal" text-anchor="start" stroke="#000" stroke-width="0.16">C-5</text>
<rect x="589.9" y="38.9" width="80.2" height="5.1" fill="#f8f428" />
<rect x="533.4" y="125.6" width="109.8" height="5.0" fill="#f8f428" />
<rect x="567.2" y="169.6" width="96.5" height="4.6" fill="#f8f428" />
<rect x="696.3" y="188.2" width="63.5" height="4.8" fill="#f8f428" />
<text x="669.8" y="43.3" font-size="4.32" text-anchor="end" fill="#1a1a1a" stroke="#1a1a1a" stroke-width="0.07">MF794115.1_MERS-CoV-C1272<tspan fill="#da3838" stroke="#da3838">2018-03-13</tspan></text>
<text x="769.4" y="40.0" font-size="4.32" text-anchor="end" fill="#1a1a1a" stroke="#1a1a1a" stroke-width="0.07">Pangolin_EPI_ISL_610156<tspan fill="#da3838" stroke="#da3838">2017-08-29</tspan></text>
<text x="664" y="82.2" font-size="4.32" text-anchor="end" fill="#1a1a1a" stroke="#1a1a1a" stroke-width="0.07">Bat_EPI_ISL_412976<tspan fill="#da3838" stroke="#da3838">2019-06-25</tspan></text>
<text x="758.4" y="100.4" font-size="4.32" text-anchor="end" fill="#1a1a1a" stroke="#1a1a1a" stroke-width="0.07">Pangolin_EPI_ISL_410544<tspan fill="#da3838" stroke="#da3838">2019</tspan></text>
<text x="643.2" y="113.6" font-size="4.32" text-anchor="end" fill="#1a1a1a" stroke="#1a1a1a" stroke-width="0.07">Bat_EPI_ISL_1699443<tspan fill="#da3838" stroke="#da3838">2019-10-22</tspan></text>
<text x="643.2" y="118.8" font-size="4.32" text-anchor="end" fill="#1a1a1a" stroke="#1a1a1a" stroke-width="0.07">Bat_EPI_ISL_1699447<tspan fill="#da3838" stroke="#da3838">2020-06-05</tspan></text>
<text x="643.2" y="124.2" font-size="4.32" text-anchor="end" fill="#1a1a1a" stroke="#1a1a1a" stroke-width="0.07">Bat_EPI_ISL_1699449<tspan fill="#da3838" stroke="#da3838">2020-07-28</tspan></text>
<text x="643.2" y="129.6" font-size="4.32" text-anchor="end" fill="#1a1a1a" stroke="#1a1a1a" stroke-width="0.07">KY417150.1_Bat-SARS-Like-Coronavirus-RsWIV4<tspan fill="#da3838" stroke="#da3838">2013-07-21</tspan></text>
<text x="638.9" y="147.2" font-size="4.32" text-anchor="end" fill="#1a1a1a" stroke="#1a1a1a" stroke-width="0.07">Bat_EPI_ISL_1699445<tspan fill="#da3838" stroke="#da3838">2020-03-25</tspan></text>
<text x="632.3" y="153.2" font-size="4.32" text-anchor="end" fill="#1a1a1a" stroke="#1a1a1a" stroke-width="0.07">Bat_EPI_ISL_1699445<tspan fill="#da3838" stroke="#da3838">2020-03-25</tspan></text>
<text x="636.8" y="159.2" font-size="4.32" text-anchor="end" fill="#1a1a1a" stroke="#1a1a1a" stroke-width="0.07">Bat_EPI_ISL_1699448<tspan fill="#da3838" stroke="#da3838">2020-07-14</tspan></text>
<text x="767.8" y="130.1" font-size="4.32" text-anchor="end" fill="#1a1a1a" stroke="#1a1a1a" stroke-width="0.07">Pangolin_EPI_ISL_410543<tspan fill="#da3838" stroke="#da3838">2017</tspan></text>
<text x="767.8" y="135.9" font-size="4.32" text-anchor="end" fill="#1a1a1a" stroke="#1a1a1a" stroke-width="0.07">Pangolin_EPI_ISL_410539<tspan fill="#da3838" stroke="#da3838">2017</tspan></text>
<text x="767.8" y="141.6" font-size="4.32" text-anchor="end" fill="#1a1a1a" stroke="#1a1a1a" stroke-width="0.07">Pangolin_EPI_ISL_410540<tspan fill="#da3838" stroke="#da3838">2017</tspan></text>
<text x="767.8" y="147.7" font-size="4.32" text-anchor="end" fill="#1a1a1a" stroke="#1a1a1a" stroke-width="0.07">Pangolin_EPI_ISL_410542<tspan fill="#da3838" stroke="#da3838">2017</tspan></text>
<text x="767.8" y="153.6" font-size="4.32" text-anchor="end" fill="#1a1a1a" stroke="#1a1a1a" stroke-width="0.07">Pangolin_EPI_ISL_410538<tspan fill="#da3838" stroke="#da3838">2017</tspan></text>
<text x="767.8" y="159.7" font-size="4.32" text-anchor="end" fill="#1a1a1a" stroke="#1a1a1a" stroke-width="0.07">Pangolin_EPI_ISL_410541<tspan fill="#da3838" stroke="#da3838">2017</tspan></text>
<text x="756.2" y="172.6" font-size="4.32" text-anchor="end" fill="#1a1a1a" stroke="#1a1a1a" stroke-width="0.07">Bat EPI-ISL-1898866<tspan fill="#da3838" stroke="#da3838">2018-08</tspan></text>
<text x="760.2" y="179.1" font-size="4.32" text-anchor="end" fill="#1a1a1a" stroke="#1a1a1a" stroke-width="0.07">Bat EPI-ISL-1699446<tspan fill="#da3838" stroke="#da3838">2019-06-29</tspan></text>
<text x="757.5" y="185.5" font-size="4.32" text-anchor="end" fill="#1a1a1a" stroke="#1a1a1a" stroke-width="0.07">Bat EPI-ISL-1699446<tspan fill="#da3838" stroke="#da3838">2019-06-23</tspan></text>
<text x="759.7" y="192.0" font-size="4.32" text-anchor="end" fill="#1a1a1a" stroke="#1a1a1a" stroke-width="0.07">NC_045512.2_Wuhan-Hu-1<tspan fill="#da3838" stroke="#da3838">2019-12</tspan></text>
<text x="754.4" y="198.4" font-size="4.32" text-anchor="end" fill="#1a1a1a" stroke="#1a1a1a" stroke-width="0.07">Bat_EPI_ISL_402131<tspan fill="#da3838" stroke="#da3838">2013-07-24</tspan></text>
<text x="751.7" y="204.9" font-size="4.32" text-anchor="end" fill="#1a1a1a" stroke="#1a1a1a" stroke-width="0.07">Bat_EPI_ISL_852604<tspan fill="#da3838" stroke="#da3838">2010-12-06</tspan></text>
<text x="749.6" y="211.3" font-size="4.32" text-anchor="end" fill="#1a1a1a" stroke="#1a1a1a" stroke-width="0.07">Bat_EPI_ISL_852605<tspan fill="#da3838" stroke="#da3838">2010-12-06</tspan></text>
<text x="663.6" y="173.3" font-size="4.32" text-anchor="end" fill="#1a1a1a" stroke="#1a1a1a" stroke-width="0.07">MT084071.1_Pangolin-coronavirus-MP789<tspan fill="#da3838" stroke="#da3838">2019-03-29</tspan></text>
<text x="660.4" y="178.7" font-size="4.32" text-anchor="end" fill="#1a1a1a" stroke="#1a1a1a" stroke-width="0.07">Pangolin_EPI_ISL_412860<tspan fill="#da3838" stroke="#da3838">2019-03-19</tspan></text>
<text x="655.5" y="184.3" font-size="4.32" text-anchor="end" fill="#1a1a1a" stroke="#1a1a1a" stroke-width="0.07">Pangolin_EPI_ISL_471470<tspan fill="#da3838" stroke="#da3838">2019</tspan></text>
<text x="658" y="190.2" font-size="4.32" text-anchor="end" fill="#1a1a1a" stroke="#1a1a1a" stroke-width="0.07">Pangolin_EPI_ISL_471469<tspan fill="#da3838" stroke="#da3838">2019</tspan></text>
<text x="661" y="196.5" font-size="4.32" text-anchor="end" fill="#1a1a1a" stroke="#1a1a1a" stroke-width="0.07">Pangolin_EPI_ISL_471467<tspan fill="#da3838" stroke="#da3838">2019</tspan></text>
<text x="666.8" y="202.2" font-size="4.32" text-anchor="end" fill="#1a1a1a" stroke="#1a1a1a" stroke-width="0.07">Pangolin_EPI_ISL_410721<tspan fill="#da3838" stroke="#da3838">2019</tspan></text>
<text x="674.6" y="208.1" font-size="4.32" text-anchor="end" fill="#1a1a1a" stroke="#1a1a1a" stroke-width="0.07">Pangolin_EPI_ISL_471468<tspan fill="#da3838" stroke="#da3838">2019</tspan></text>
<path d="M673.1,46.4 L676.3,112 L678.7,142.6 L681.5,160.5" fill="none" stroke="#111" stroke-width="0.6" stroke-linejoin="round"/>
<path d="M697.4,41 L686.8,112 L680.7,142.6 L681.5,160.5" fill="none" stroke="#111" stroke-width="0.6" stroke-linejoin="round"/>
<path d="M698.8,104.3 L687.9,129.3 L681.7,153.8 L681.5,160.5" fill="none" stroke="#111" stroke-width="0.6" stroke-linejoin="round"/>
<path d="M687.9,129.3 L689.5,131.5" fill="none" stroke="#111" stroke-width="0.6" stroke-linejoin="round"/>
<path d="M652.9,88.3 L659.3,112 L661.3,121.2 L678.7,157.9 L681.5,160.5" fill="none" stroke="#111" stroke-width="0.6" stroke-linejoin="round"/>
<path d="M661.3,121.2 L664.4,138.5 L678,157.5" fill="none" stroke="#111" stroke-width="0.6" stroke-linejoin="round"/>
<path d="M661.3,121.2 L666.4,138.5 L678.5,157.5" fill="none" stroke="#111" stroke-width="0.6" stroke-linejoin="round"/>
<path d="M653.2,128.3 L665.4,141.6 L678.7,157.9" fill="none" stroke="#111" stroke-width="0.55" stroke-linejoin="round"/>
<path d="M655.2,127.3 L665.4,141.6 L678.7,157.9" fill="none" stroke="#111" stroke-width="0.55" stroke-linejoin="round"/>
<path d="M652.1,132.4 L665.4,141.6 L678.7,157.9" fill="none" stroke="#111" stroke-width="0.55" stroke-linejoin="round"/>
<path d="M650.1,133.4 L665.4,141.6 L678.7,157.9" fill="none" stroke="#111" stroke-width="0.55" stroke-linejoin="round"/>
<path d="M634.5,152.2 L660,155 L678.7,157.9 L681.5,160.5" fill="none" stroke="#111" stroke-width="0.6" stroke-linejoin="round"/>
<circle cx="634.5" cy="152.2" r="0.6" fill="#222"/>
<path d="M681.5,160.5 L702.1,144.6" fill="none" stroke="#111" stroke-width="0.5" stroke-linejoin="round"/>
<path d="M681.5,160.5 L702.1,147.1" fill="none" stroke="#111" stroke-width="0.5" stroke-linejoin="round"/>
<path d="M681.5,160.5 L702.9,149.5" fill="none" stroke="#111" stroke-width="0.5" stroke-linejoin="round"/>
<path d="M702.1,144.6 L708.6,134.8" fill="none" stroke="#111" stroke-width="0.6" stroke-linejoin="round"/>
<path d="M681.2,160.5 L683.6,160.5 L684,167.5 L682.2,167.5 Z" fill="#111"/>
<path d="M682.9,166.5 L674.9,173.8 L672.5,184.4 L673.6,191.4" fill="none" stroke="#111" stroke-width="0.55" stroke-linejoin="round"/>
<path d="M674.9,173.8 L660.7,182.1" fill="none" stroke="#111" stroke-width="0.5" stroke-linejoin="round"/>
<path d="M682.9,166.5 L676.4,171.4 L664,172" fill="none" stroke="#a03030" stroke-width="0.45" stroke-linejoin="round"/>
<path d="M684.5,168 L701,172.2" fill="none" stroke="#111" stroke-width="0.55" stroke-linejoin="round"/>
<path d="M684.5,168 L699.4,175.4" fill="none" stroke="#111" stroke-width="0.55" stroke-linejoin="round"/>
<path d="M684.5,168 L696.1,177.9" fill="none" stroke="#111" stroke-width="0.55" stroke-linejoin="round"/>
<path d="M684.5,168 L692.9,179.5" fill="none" stroke="#111" stroke-width="0.55" stroke-linejoin="round"/>
<path d="M684.5,168 L690.4,180.3" fill="none" stroke="#111" stroke-width="0.55" stroke-linejoin="round"/>
<path d="M684.5,168 L688.6,181.5" fill="none" stroke="#111" stroke-width="0.55" stroke-linejoin="round"/>
<circle cx="673.1" cy="46.4" r="0.6" fill="#222"/>
<circle cx="697.4" cy="41" r="0.6" fill="#222"/>
<circle cx="698.8" cy="104.3" r="0.6" fill="#222"/>
<circle cx="652.9" cy="88.3" r="0.6" fill="#222"/>
<circle cx="708.6" cy="134.8" r="0.6" fill="#222"/>
<circle cx="702.9" cy="149.5" r="0.6" fill="#222"/>
<circle cx="660.7" cy="182.1" r="0.6" fill="#222"/>
<circle cx="701" cy="172.2" r="0.6" fill="#222"/>
<line x1="529.7" y1="230.4" x2="587.9" y2="230.4" stroke="#999" stroke-width="0.5" />
<line x1="529.7" y1="228.8" x2="529.7" y2="230.4" stroke="#aaa" stroke-width="0.4" />
<line x1="537.3" y1="228.8" x2="537.3" y2="230.4" stroke="#aaa" stroke-width="0.4" />
<line x1="544.9" y1="228.8" x2="544.9" y2="230.4" stroke="#aaa" stroke-width="0.4" />
<line x1="552.5" y1="228.8" x2="552.5" y2="230.4" stroke="#aaa" stroke-width="0.4" />
<line x1="560.1" y1="228.8" x2="560.1" y2="230.4" stroke="#aaa" stroke-width="0.4" />
<line x1="567.7" y1="228.8" x2="567.7" y2="230.4" stroke="#aaa" stroke-width="0.4" />
<line x1="575.3" y1="228.8" x2="575.3" y2="230.4" stroke="#aaa" stroke-width="0.4" />
<line x1="582.9" y1="228.8" x2="582.9" y2="230.4" stroke="#aaa" stroke-width="0.4" />
<line x1="587.9" y1="228.8" x2="587.9" y2="230.4" stroke="#aaa" stroke-width="0.4" />
<text x="529.9" y="225.8" font-size="3.2" fill="#888" font-weight="normal" text-anchor="middle" >0</text>
<text x="568" y="225.8" font-size="3.2" fill="#888" font-weight="normal" text-anchor="middle" >1000</text>
<text x="587.2" y="225.8" font-size="3.2" fill="#888" font-weight="normal" text-anchor="middle" >1500</text>
</g>
</svg></body></html>
